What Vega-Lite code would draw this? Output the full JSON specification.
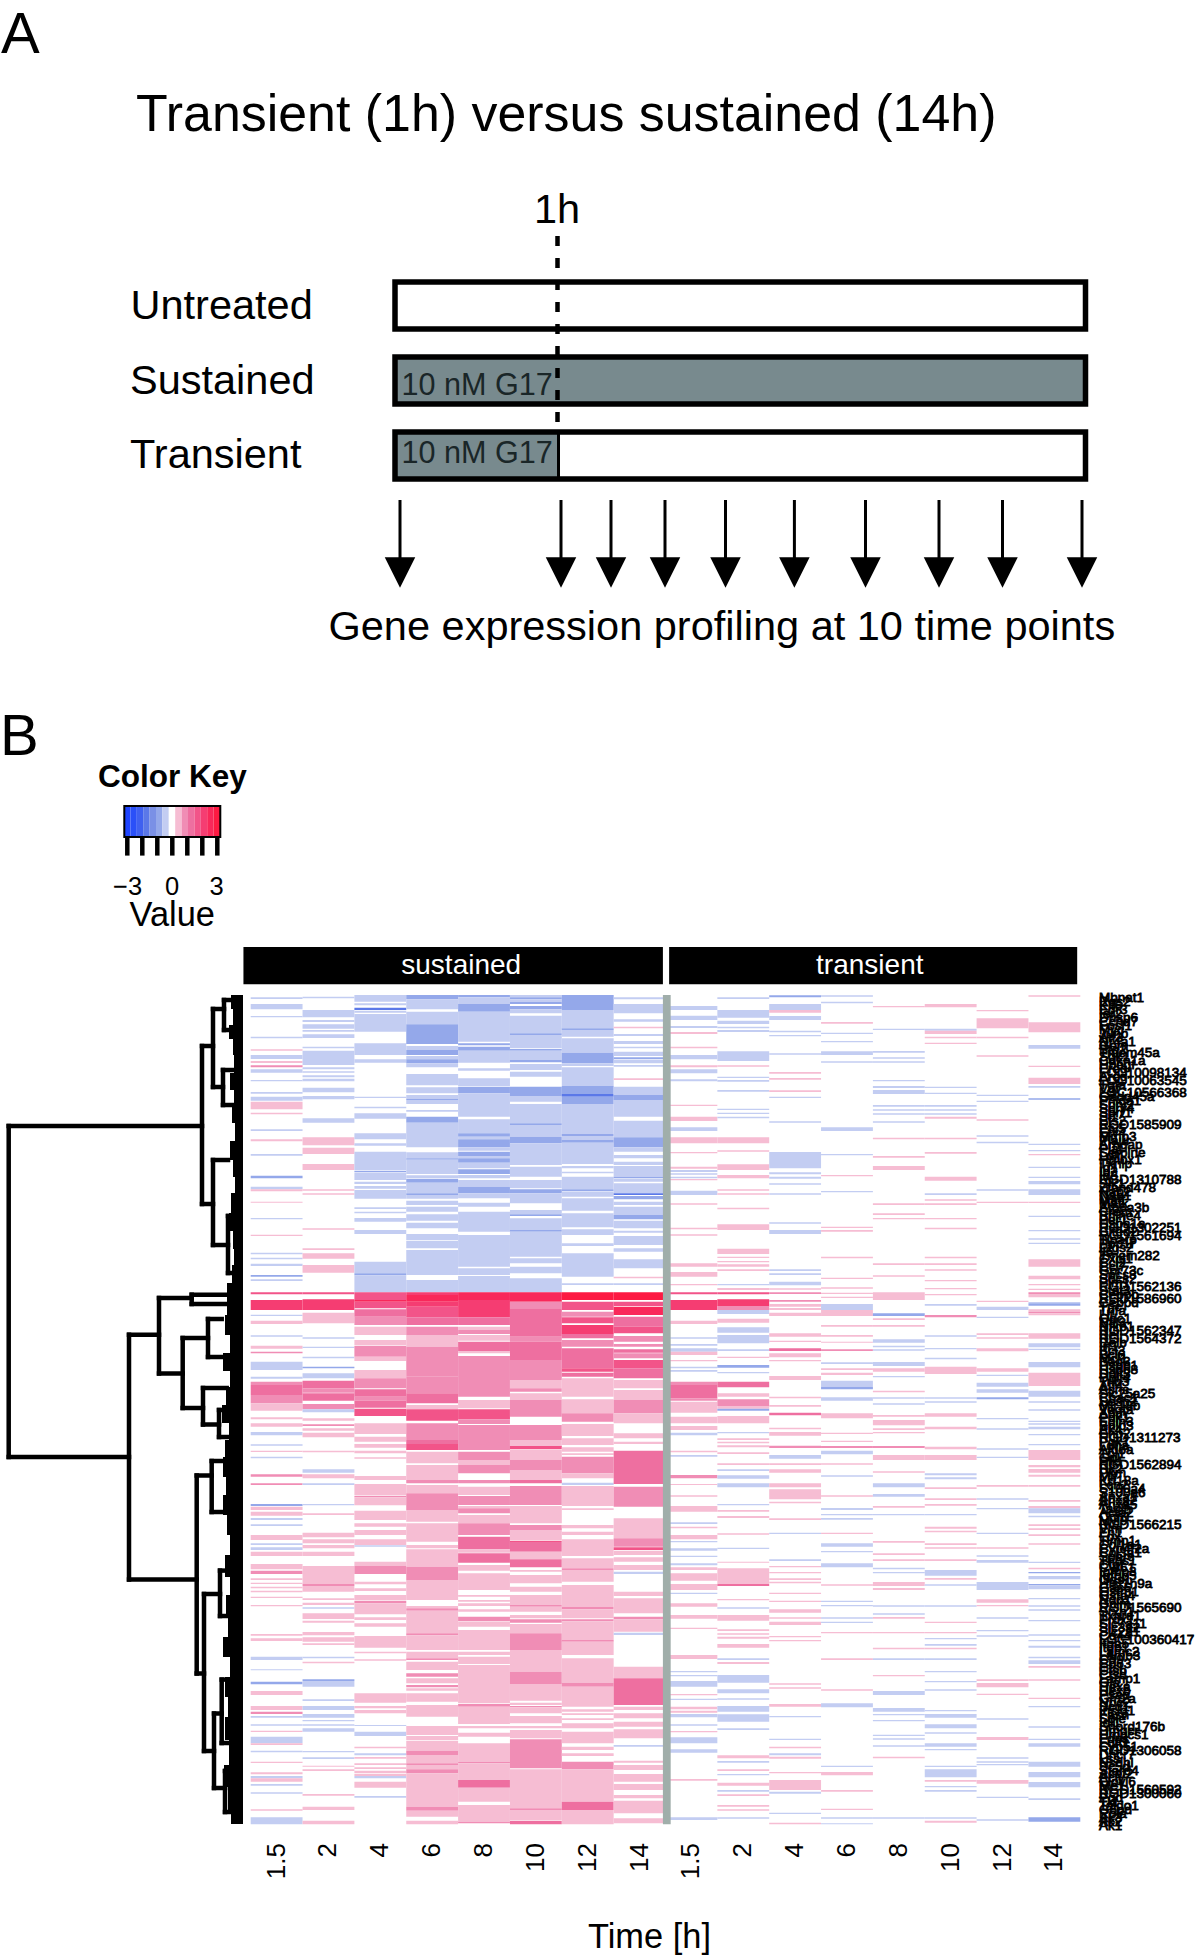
{"$schema":"https://vega.github.io/schema/vega-lite/v6.json","width":1200,"height":1957,"padding":0,"autosize":{"type":"none"},"background":"white","config":{"view":{"stroke":null},"text":{"font":"Liberation Sans"}},"resolve":{"scale":{"x":"independent","y":"independent"}},
"layer":[
{"data":{"values":[{"arm":"Sustained","s":0,"e":14},{"arm":"Transient","s":0,"e":1}]},"mark":{"type":"rect","fill":"#788a8e"},"encoding":{"x":{"field":"s","type":"quantitative","axis":null,"scale":{"domain":[0,1,14],"range":[395,558,1085.5],"zero":false,"nice":false}},"x2":{"field":"e"},"y":{"field":"arm","type":"nominal","axis":null,"scale":{"domain":["Untreated","Sustained","Transient"],"range":[282,479],"paddingInner":0.373,"paddingOuter":0}}}},
{"data":{"values":[{"y":0,"y2":0.8}]},"mark":{"type":"rule","stroke":"black","strokeWidth":4.5,"strokeDash":[10,12]},"encoding":{"x":{"datum":1,"type":"quantitative","axis":null,"scale":{"domain":[0,1,14],"range":[395,557.5,1085.5],"zero":false,"nice":false}},"y":{"field":"y","type":"quantitative","axis":null,"scale":{"domain":[0,1],"range":[236,481],"zero":false,"nice":false}},"y2":{"field":"y2"}}},
{"data":{"values":[{"y":0.8,"y2":1}]},"mark":{"type":"rule","stroke":"black","strokeWidth":3},"encoding":{"x":{"datum":1,"type":"quantitative","axis":null,"scale":{"domain":[0,1,14],"range":[395,558.5,1085.5],"zero":false,"nice":false}},"y":{"field":"y","type":"quantitative","axis":null,"scale":{"domain":[0,1],"range":[236,481],"zero":false,"nice":false}},"y2":{"field":"y2"}}},
{"data":{"values":[{"arm":"Untreated","s":0,"e":14},{"arm":"Sustained","s":0,"e":14},{"arm":"Transient","s":0,"e":14}]},"mark":{"type":"rect","fillOpacity":0,"stroke":"black","strokeWidth":5.5},"encoding":{"x":{"field":"s","type":"quantitative","axis":null,"scale":{"domain":[0,1,14],"range":[395,558,1085.5],"zero":false,"nice":false}},"x2":{"field":"e"},"y":{"field":"arm","type":"nominal","axis":null,"scale":{"domain":["Untreated","Sustained","Transient"],"range":[282,479],"paddingInner":0.373,"paddingOuter":0}}}},
{"data":{"values":[{"h":0},{"h":1},{"h":1.5},{"h":2},{"h":4},{"h":6},{"h":8},{"h":10},{"h":12},{"h":14}]},"mark":{"type":"rule","stroke":"black","strokeWidth":3},"encoding":{"x":{"field":"h","type":"quantitative","axis":null,"scale":{"domain":[0,1,1.5,2,4,6,8,10,12,14],"range":[400,561,611,665,725.5,794.4,865.5,939,1002.5,1082],"zero":false,"nice":false}},"y":{"datum":0,"type":"quantitative","axis":null,"scale":{"domain":[0,1],"range":[500,587.6],"zero":false,"nice":false}},"y2":{"datum":0.68}}},
{"data":{"values":[{"h":0},{"h":1},{"h":1.5},{"h":2},{"h":4},{"h":6},{"h":8},{"h":10},{"h":12},{"h":14}]},"mark":{"type":"point","filled":true,"opacity":1,"fill":"black","strokeWidth":0,"shape":"M-1,-1L1,-1L0,1Z","size":930},"encoding":{"x":{"field":"h","type":"quantitative","axis":null,"scale":{"domain":[0,1,1.5,2,4,6,8,10,12,14],"range":[400,561,611,665,725.5,794.4,865.5,939,1002.5,1082],"zero":false,"nice":false}},"y":{"datum":0.827,"type":"quantitative","axis":null,"scale":{"domain":[0,1],"range":[500,587.6],"zero":false,"nice":false}}}},
{"data":{"values":[{"v":-2.8},{"v":-2.4},{"v":-2},{"v":-1.6},{"v":-1.2},{"v":-0.8},{"v":-0.4},{"v":0},{"v":0.4},{"v":0.8},{"v":1.2},{"v":1.6},{"v":2},{"v":2.4},{"v":2.8}]},"mark":{"type":"rect"},"encoding":{"x":{"field":"v","type":"nominal","axis":null,"sort":null,"scale":{"domain":[-2.8,-2.4,-2,-1.6,-1.2,-0.8,-0.4,0,0.4,0.8,1.2,1.6,2,2.4,2.8],"range":[124,220],"padding":0}},"y":{"datum":0,"type":"quantitative","axis":null,"scale":{"domain":[0,1],"range":[806,837],"zero":false,"nice":false}},"y2":{"datum":1},"color":{"field":"v","type":"quantitative","legend":null,"scale":{"type":"threshold","domain":[-2.6,-2.2,-1.8,-1.4,-1,-0.6,-0.2,0.2,0.6,1,1.4,1.8,2.2,2.6],"range":["#1f45ff","#2a50f8","#3f60f0","#5b78e8","#7a90e6","#94a8ea","#c3cdf2","#ffffff","#f6bdd3","#f08db5","#ee6fa0","#f25489","#f53d72","#f9285a","#fd1a42"]}}}},
{"data":{"values":[{"a":-3.2,"b":3.2}]},"mark":{"type":"rect","fillOpacity":0,"stroke":"black","strokeWidth":2},"encoding":{"x":{"field":"a","type":"quantitative","axis":null,"scale":{"domain":[-3,3],"range":[127.3,217.3],"zero":false,"nice":false}},"x2":{"field":"b"},"y":{"datum":0,"type":"quantitative","axis":null,"scale":{"domain":[0,1],"range":[806,837],"zero":false,"nice":false}},"y2":{"datum":1}}},
{"data":{"values":[{"t":-3},{"t":-2},{"t":-1},{"t":0},{"t":1},{"t":2},{"t":3}]},"mark":{"type":"rule","stroke":"black","strokeWidth":4.5},"encoding":{"x":{"field":"t","type":"quantitative","axis":null,"scale":{"domain":[-3,3],"range":[127.3,217.3],"zero":false,"nice":false}},"y":{"datum":1,"type":"quantitative","axis":null,"scale":{"domain":[0,1],"range":[806,837],"zero":false,"nice":false}},"y2":{"datum":1.6}}},
{"data":{"values":[
{"c":0,"a":52,"b":57,"v":-0.4},{"c":0,"a":72,"b":88,"v":-0.4},{"c":0,"a":108,"b":112,"v":-0.4},{"c":0,"a":170,"b":175,"v":-0.4},{"c":0,"a":208,"b":212,"v":0.4},{"c":0,"a":225,"b":237,"v":-0.4},{"c":0,"a":243,"b":249,"v":0.4},{"c":0,"a":256,"b":262,"v":0.8},{"c":0,"a":268,"b":278,"v":-0.4},{"c":0,"a":300,"b":304,"v":-0.4},{"c":0,"a":336,"b":341,"v":-0.4},{"c":0,"a":350,"b":362,"v":-0.4},{"c":0,"a":365,"b":388,"v":0.4},{"c":0,"a":398,"b":403,"v":0.4},{"c":0,"a":448,"b":453,"v":-0.4},{"c":0,"a":478,"b":484,"v":0.4},{"c":0,"a":522,"b":527,"v":-0.4},{"c":0,"a":587,"b":595,"v":-0.8},{"c":0,"a":620,"b":628,"v":-0.4},{"c":0,"a":628,"b":634,"v":0.4},{"c":0,"a":665,"b":668,"v":0.4},{"c":0,"a":714,"b":718,"v":-0.4},{"c":0,"a":764,"b":768,"v":0.4},{"c":0,"a":818,"b":823,"v":-0.4},{"c":0,"a":833,"b":838,"v":-0.4},{"c":0,"a":851,"b":858,"v":-0.4},{"c":0,"a":885,"b":890,"v":-0.8},{"c":0,"a":898,"b":903,"v":-0.4},{"c":0,"a":937,"b":943,"v":1.6},{"c":0,"a":960,"b":990,"v":2},{"c":0,"a":1004,"b":1008,"v":-0.4},{"c":0,"a":1022,"b":1032,"v":0.4},{"c":0,"a":1066,"b":1070,"v":-0.4},{"c":0,"a":1097,"b":1106,"v":0.4},{"c":0,"a":1115,"b":1120,"v":0.8},{"c":0,"a":1145,"b":1170,"v":-0.4},{"c":0,"a":1190,"b":1196,"v":-0.4},{"c":0,"a":1205,"b":1215,"v":0.8},{"c":0,"a":1215,"b":1245,"v":1.2},{"c":0,"a":1245,"b":1270,"v":0.8},{"c":0,"a":1270,"b":1292,"v":0.4},{"c":0,"a":1312,"b":1318,"v":0.4},{"c":0,"a":1330,"b":1340,"v":0.4},{"c":0,"a":1356,"b":1366,"v":-0.4},{"c":0,"a":1393,"b":1397,"v":-0.4},{"c":0,"a":1412,"b":1416,"v":0.4},{"c":0,"a":1430,"b":1435,"v":-0.4},{"c":0,"a":1483,"b":1490,"v":0.8},{"c":0,"a":1510,"b":1515,"v":0.8},{"c":0,"a":1572,"b":1578,"v":-0.8},{"c":0,"a":1580,"b":1590,"v":0.4},{"c":0,"a":1595,"b":1607,"v":0.4},{"c":0,"a":1614,"b":1620,"v":-0.4},{"c":0,"a":1633,"b":1638,"v":-0.4},{"c":0,"a":1665,"b":1680,"v":0.4},{"c":0,"a":1690,"b":1695,"v":-0.4},{"c":0,"a":1702,"b":1710,"v":-0.4},{"c":0,"a":1715,"b":1728,"v":0.4},{"c":0,"a":1752,"b":1768,"v":0.4},{"c":0,"a":1772,"b":1782,"v":0.8},{"c":0,"a":1795,"b":1800,"v":0.4},{"c":0,"a":1808,"b":1812,"v":0.4},{"c":0,"a":1820,"b":1825,"v":0.4},{"c":0,"a":1832,"b":1837,"v":0.4},{"c":0,"a":1850,"b":1854,"v":0.4},{"c":0,"a":1875,"b":1879,"v":0.4},{"c":0,"a":1962,"b":1967,"v":0.4},{"c":0,"a":1975,"b":1983,"v":0.4},{"c":0,"a":2030,"b":2040,"v":-0.4},{"c":0,"a":2068,"b":2071,"v":-0.4},{"c":0,"a":2105,"b":2113,"v":-0.8},{"c":0,"a":2133,"b":2145,"v":0.4},{"c":0,"a":2178,"b":2190,"v":0.4},{"c":0,"a":2195,"b":2202,"v":0.8},{"c":0,"a":2208,"b":2213,"v":-0.4},{"c":0,"a":2233,"b":2237,"v":-0.4},{"c":0,"a":2252,"b":2256,"v":0.4},{"c":0,"a":2270,"b":2290,"v":-0.4},{"c":0,"a":2290,"b":2295,"v":0.4},{"c":0,"a":2312,"b":2317,"v":-0.4},{"c":0,"a":2345,"b":2349,"v":0.4},{"c":0,"a":2377,"b":2383,"v":0.4},{"c":0,"a":2388,"b":2395,"v":-0.4},{"c":0,"a":2395,"b":2405,"v":0.4},{"c":0,"a":2412,"b":2417,"v":-0.4},{"c":0,"a":2437,"b":2441,"v":-0.4},{"c":0,"a":2488,"b":2492,"v":0.4},{"c":0,"a":2512,"b":2533,"v":-0.4},
{"c":1,"a":50,"b":55,"v":-0.4},{"c":1,"a":90,"b":112,"v":-0.4},{"c":1,"a":120,"b":126,"v":-0.4},{"c":1,"a":133,"b":146,"v":-0.4},{"c":1,"a":150,"b":155,"v":-0.4},{"c":1,"a":163,"b":174,"v":-0.4},{"c":1,"a":200,"b":205,"v":-0.4},{"c":1,"a":212,"b":255,"v":-0.4},{"c":1,"a":262,"b":268,"v":-0.4},{"c":1,"a":274,"b":278,"v":-0.4},{"c":1,"a":286,"b":292,"v":-0.4},{"c":1,"a":296,"b":304,"v":-0.4},{"c":1,"a":323,"b":337,"v":-0.4},{"c":1,"a":348,"b":358,"v":-0.4},{"c":1,"a":415,"b":428,"v":-0.4},{"c":1,"a":472,"b":496,"v":0.4},{"c":1,"a":503,"b":522,"v":0.4},{"c":1,"a":552,"b":570,"v":0.4},{"c":1,"a":628,"b":632,"v":0.4},{"c":1,"a":640,"b":644,"v":0.4},{"c":1,"a":745,"b":749,"v":0.4},{"c":1,"a":805,"b":810,"v":0.4},{"c":1,"a":820,"b":836,"v":0.4},{"c":1,"a":855,"b":878,"v":0.4},{"c":1,"a":937,"b":943,"v":1.6},{"c":1,"a":958,"b":990,"v":2},{"c":1,"a":998,"b":1030,"v":0.4},{"c":1,"a":1072,"b":1076,"v":-0.4},{"c":1,"a":1100,"b":1104,"v":-0.4},{"c":1,"a":1130,"b":1135,"v":-0.4},{"c":1,"a":1160,"b":1165,"v":-0.8},{"c":1,"a":1180,"b":1195,"v":-0.4},{"c":1,"a":1202,"b":1225,"v":1.2},{"c":1,"a":1225,"b":1238,"v":0.8},{"c":1,"a":1240,"b":1262,"v":1.2},{"c":1,"a":1272,"b":1288,"v":0.8},{"c":1,"a":1288,"b":1297,"v":-0.4},{"c":1,"a":1315,"b":1322,"v":0.4},{"c":1,"a":1333,"b":1338,"v":0.8},{"c":1,"a":1345,"b":1352,"v":0.4},{"c":1,"a":1358,"b":1372,"v":0.4},{"c":1,"a":1412,"b":1417,"v":0.4},{"c":1,"a":1468,"b":1478,"v":-0.4},{"c":1,"a":1483,"b":1495,"v":0.4},{"c":1,"a":1510,"b":1515,"v":-0.4},{"c":1,"a":1572,"b":1576,"v":-0.4},{"c":1,"a":1600,"b":1605,"v":0.4},{"c":1,"a":1658,"b":1672,"v":0.4},{"c":1,"a":1678,"b":1690,"v":0.4},{"c":1,"a":1695,"b":1705,"v":0.4},{"c":1,"a":1715,"b":1728,"v":0.4},{"c":1,"a":1758,"b":1812,"v":0.4},{"c":1,"a":1812,"b":1818,"v":0.8},{"c":1,"a":1818,"b":1835,"v":0.4},{"c":1,"a":1855,"b":1860,"v":0.4},{"c":1,"a":1868,"b":1875,"v":0.4},{"c":1,"a":1882,"b":1886,"v":-0.4},{"c":1,"a":1900,"b":1917,"v":0.4},{"c":1,"a":1922,"b":1928,"v":0.4},{"c":1,"a":1956,"b":1966,"v":0.4},{"c":1,"a":1972,"b":1985,"v":0.4},{"c":1,"a":1990,"b":1995,"v":0.4},{"c":1,"a":2030,"b":2035,"v":-0.4},{"c":1,"a":2045,"b":2050,"v":0.4},{"c":1,"a":2098,"b":2103,"v":-0.8},{"c":1,"a":2103,"b":2120,"v":-0.4},{"c":1,"a":2158,"b":2163,"v":-0.4},{"c":1,"a":2178,"b":2190,"v":-0.4},{"c":1,"a":2202,"b":2213,"v":-0.4},{"c":1,"a":2220,"b":2224,"v":-0.4},{"c":1,"a":2233,"b":2237,"v":-0.4},{"c":1,"a":2245,"b":2255,"v":-0.4},{"c":1,"a":2313,"b":2317,"v":-0.4},{"c":1,"a":2332,"b":2337,"v":-0.4},{"c":1,"a":2357,"b":2360,"v":0.4},{"c":1,"a":2368,"b":2373,"v":0.4},{"c":1,"a":2442,"b":2447,"v":0.4},{"c":1,"a":2480,"b":2490,"v":0.4},{"c":1,"a":2522,"b":2533,"v":0.4},
{"c":2,"a":45,"b":65,"v":-0.4},{"c":2,"a":70,"b":76,"v":-0.4},{"c":2,"a":83,"b":90,"v":-1.6},{"c":2,"a":92,"b":98,"v":-0.4},{"c":2,"a":102,"b":155,"v":-0.4},{"c":2,"a":190,"b":225,"v":-0.4},{"c":2,"a":238,"b":248,"v":-0.4},{"c":2,"a":350,"b":354,"v":-0.4},{"c":2,"a":380,"b":385,"v":-0.4},{"c":2,"a":400,"b":416,"v":-0.4},{"c":2,"a":460,"b":478,"v":-0.4},{"c":2,"a":490,"b":497,"v":-0.4},{"c":2,"a":515,"b":570,"v":-0.4},{"c":2,"a":572,"b":577,"v":-0.8},{"c":2,"a":578,"b":600,"v":-0.4},{"c":2,"a":605,"b":612,"v":-0.4},{"c":2,"a":618,"b":626,"v":-0.4},{"c":2,"a":630,"b":656,"v":-0.4},{"c":2,"a":682,"b":687,"v":-0.4},{"c":2,"a":695,"b":700,"v":-0.4},{"c":2,"a":714,"b":725,"v":-0.4},{"c":2,"a":750,"b":762,"v":-0.4},{"c":2,"a":845,"b":880,"v":-0.4},{"c":2,"a":880,"b":886,"v":-0.8},{"c":2,"a":886,"b":937,"v":-0.4},{"c":2,"a":937,"b":960,"v":1.6},{"c":2,"a":960,"b":965,"v":2.4},{"c":2,"a":965,"b":985,"v":1.6},{"c":2,"a":988,"b":1010,"v":1.2},{"c":2,"a":1010,"b":1035,"v":0.8},{"c":2,"a":1040,"b":1065,"v":0.4},{"c":2,"a":1080,"b":1095,"v":0.4},{"c":2,"a":1097,"b":1130,"v":0.8},{"c":2,"a":1130,"b":1143,"v":0.4},{"c":2,"a":1170,"b":1195,"v":0.4},{"c":2,"a":1195,"b":1225,"v":0.8},{"c":2,"a":1228,"b":1250,"v":1.2},{"c":2,"a":1250,"b":1262,"v":0.8},{"c":2,"a":1262,"b":1283,"v":1.2},{"c":2,"a":1286,"b":1308,"v":1.6},{"c":2,"a":1330,"b":1362,"v":0.4},{"c":2,"a":1370,"b":1385,"v":0.4},{"c":2,"a":1392,"b":1403,"v":0.4},{"c":2,"a":1412,"b":1420,"v":0.4},{"c":2,"a":1432,"b":1436,"v":0.4},{"c":2,"a":1488,"b":1500,"v":0.4},{"c":2,"a":1512,"b":1545,"v":0.4},{"c":2,"a":1547,"b":1552,"v":0.8},{"c":2,"a":1552,"b":1576,"v":0.4},{"c":2,"a":1592,"b":1620,"v":0.4},{"c":2,"a":1630,"b":1640,"v":0.4},{"c":2,"a":1650,"b":1665,"v":0.4},{"c":2,"a":1678,"b":1695,"v":0.4},{"c":2,"a":1696,"b":1700,"v":-0.4},{"c":2,"a":1745,"b":1758,"v":0.4},{"c":2,"a":1758,"b":1782,"v":0.8},{"c":2,"a":1805,"b":1813,"v":0.4},{"c":2,"a":1825,"b":1833,"v":0.4},{"c":2,"a":1845,"b":1860,"v":0.4},{"c":2,"a":1862,"b":1870,"v":0.8},{"c":2,"a":1870,"b":1903,"v":0.4},{"c":2,"a":1912,"b":1920,"v":0.4},{"c":2,"a":1930,"b":1940,"v":0.4},{"c":2,"a":1968,"b":2003,"v":0.4},{"c":2,"a":2015,"b":2020,"v":0.4},{"c":2,"a":2038,"b":2042,"v":0.4},{"c":2,"a":2140,"b":2168,"v":0.4},{"c":2,"a":2178,"b":2185,"v":0.4},{"c":2,"a":2190,"b":2200,"v":0.4},{"c":2,"a":2235,"b":2238,"v":-0.4},{"c":2,"a":2255,"b":2268,"v":-0.4},{"c":2,"a":2300,"b":2305,"v":0.4},{"c":2,"a":2320,"b":2326,"v":-0.4},{"c":2,"a":2331,"b":2336,"v":0.4},{"c":2,"a":2350,"b":2355,"v":0.4},{"c":2,"a":2362,"b":2367,"v":0.4},{"c":2,"a":2372,"b":2380,"v":0.4},{"c":2,"a":2382,"b":2388,"v":0.4},{"c":2,"a":2388,"b":2395,"v":-0.4},{"c":2,"a":2405,"b":2423,"v":0.4},{"c":2,"a":2448,"b":2453,"v":-0.4},
{"c":3,"a":45,"b":58,"v":-0.8},{"c":3,"a":58,"b":88,"v":-0.4},{"c":3,"a":95,"b":133,"v":-0.4},{"c":3,"a":133,"b":192,"v":-0.8},{"c":3,"a":198,"b":210,"v":-0.4},{"c":3,"a":210,"b":225,"v":-0.8},{"c":3,"a":228,"b":238,"v":-0.4},{"c":3,"a":238,"b":250,"v":-0.8},{"c":3,"a":250,"b":262,"v":-0.4},{"c":3,"a":282,"b":316,"v":-0.4},{"c":3,"a":322,"b":340,"v":-0.4},{"c":3,"a":345,"b":356,"v":-0.4},{"c":3,"a":356,"b":360,"v":-0.8},{"c":3,"a":360,"b":372,"v":-0.4},{"c":3,"a":390,"b":395,"v":-0.4},{"c":3,"a":410,"b":428,"v":-0.8},{"c":3,"a":428,"b":502,"v":-0.4},{"c":3,"a":517,"b":535,"v":-0.4},{"c":3,"a":535,"b":539,"v":-0.8},{"c":3,"a":539,"b":582,"v":-0.4},{"c":3,"a":586,"b":594,"v":-0.4},{"c":3,"a":596,"b":608,"v":-0.8},{"c":3,"a":608,"b":640,"v":-0.4},{"c":3,"a":640,"b":645,"v":-0.8},{"c":3,"a":645,"b":656,"v":-0.4},{"c":3,"a":662,"b":675,"v":-0.4},{"c":3,"a":680,"b":695,"v":-0.4},{"c":3,"a":703,"b":722,"v":-0.4},{"c":3,"a":728,"b":745,"v":-0.4},{"c":3,"a":762,"b":780,"v":-0.4},{"c":3,"a":782,"b":805,"v":-0.4},{"c":3,"a":810,"b":885,"v":-0.4},{"c":3,"a":900,"b":937,"v":-0.4},{"c":3,"a":937,"b":945,"v":2},{"c":3,"a":945,"b":965,"v":2.4},{"c":3,"a":965,"b":980,"v":2},{"c":3,"a":980,"b":1012,"v":1.6},{"c":3,"a":1012,"b":1035,"v":1.2},{"c":3,"a":1040,"b":1065,"v":0.8},{"c":3,"a":1065,"b":1100,"v":0.4},{"c":3,"a":1100,"b":1190,"v":0.8},{"c":3,"a":1190,"b":1240,"v":0.8},{"c":3,"a":1240,"b":1270,"v":1.2},{"c":3,"a":1275,"b":1288,"v":0.4},{"c":3,"a":1288,"b":1322,"v":1.6},{"c":3,"a":1330,"b":1380,"v":0.8},{"c":3,"a":1380,"b":1392,"v":1.2},{"c":3,"a":1392,"b":1410,"v":1.6},{"c":3,"a":1415,"b":1450,"v":0.4},{"c":3,"a":1455,"b":1500,"v":0.4},{"c":3,"a":1500,"b":1510,"v":0.8},{"c":3,"a":1515,"b":1540,"v":0.4},{"c":3,"a":1540,"b":1590,"v":0.8},{"c":3,"a":1590,"b":1625,"v":0.4},{"c":3,"a":1630,"b":1685,"v":0.4},{"c":3,"a":1695,"b":1705,"v":0.4},{"c":3,"a":1708,"b":1760,"v":0.4},{"c":3,"a":1760,"b":1800,"v":0.8},{"c":3,"a":1800,"b":1860,"v":0.4},{"c":3,"a":1878,"b":1885,"v":0.4},{"c":3,"a":1885,"b":1892,"v":0.8},{"c":3,"a":1892,"b":1960,"v":0.4},{"c":3,"a":1960,"b":1966,"v":0.8},{"c":3,"a":1966,"b":2010,"v":0.4},{"c":3,"a":2015,"b":2035,"v":0.4},{"c":3,"a":2035,"b":2040,"v":0.8},{"c":3,"a":2045,"b":2070,"v":0.4},{"c":3,"a":2080,"b":2090,"v":0.8},{"c":3,"a":2095,"b":2110,"v":0.4},{"c":3,"a":2115,"b":2122,"v":0.8},{"c":3,"a":2125,"b":2132,"v":0.4},{"c":3,"a":2140,"b":2165,"v":0.4},{"c":3,"a":2175,"b":2210,"v":0.4},{"c":3,"a":2238,"b":2265,"v":0.4},{"c":3,"a":2268,"b":2280,"v":0.4},{"c":3,"a":2282,"b":2312,"v":0.4},{"c":3,"a":2312,"b":2325,"v":0.8},{"c":3,"a":2325,"b":2350,"v":0.4},{"c":3,"a":2350,"b":2355,"v":0.8},{"c":3,"a":2355,"b":2368,"v":0.4},{"c":3,"a":2368,"b":2380,"v":0.8},{"c":3,"a":2380,"b":2480,"v":0.4},{"c":3,"a":2480,"b":2492,"v":0.8},{"c":3,"a":2492,"b":2510,"v":0.4},{"c":3,"a":2522,"b":2533,"v":0.4},
{"c":4,"a":45,"b":52,"v":-0.8},{"c":4,"a":52,"b":72,"v":-0.4},{"c":4,"a":72,"b":95,"v":-0.8},{"c":4,"a":95,"b":185,"v":-0.4},{"c":4,"a":190,"b":196,"v":-0.8},{"c":4,"a":200,"b":212,"v":-0.8},{"c":4,"a":212,"b":248,"v":-0.4},{"c":4,"a":265,"b":272,"v":-0.4},{"c":4,"a":295,"b":318,"v":-0.4},{"c":4,"a":320,"b":340,"v":-0.8},{"c":4,"a":340,"b":410,"v":-0.4},{"c":4,"a":418,"b":460,"v":-0.4},{"c":4,"a":460,"b":470,"v":-0.8},{"c":4,"a":470,"b":478,"v":-0.4},{"c":4,"a":478,"b":502,"v":-0.8},{"c":4,"a":502,"b":512,"v":-0.4},{"c":4,"a":515,"b":528,"v":-0.8},{"c":4,"a":528,"b":535,"v":-0.4},{"c":4,"a":535,"b":548,"v":-0.8},{"c":4,"a":548,"b":565,"v":-0.4},{"c":4,"a":568,"b":582,"v":-0.8},{"c":4,"a":585,"b":595,"v":-0.4},{"c":4,"a":600,"b":620,"v":-0.4},{"c":4,"a":620,"b":640,"v":-0.8},{"c":4,"a":640,"b":655,"v":-0.4},{"c":4,"a":668,"b":680,"v":-0.4},{"c":4,"a":695,"b":755,"v":-0.4},{"c":4,"a":765,"b":860,"v":-0.4},{"c":4,"a":865,"b":885,"v":-0.4},{"c":4,"a":888,"b":937,"v":-0.4},{"c":4,"a":937,"b":960,"v":2.4},{"c":4,"a":960,"b":1012,"v":2},{"c":4,"a":1012,"b":1035,"v":1.2},{"c":4,"a":1040,"b":1050,"v":0.4},{"c":4,"a":1050,"b":1062,"v":0.8},{"c":4,"a":1065,"b":1082,"v":0.4},{"c":4,"a":1085,"b":1113,"v":1.2},{"c":4,"a":1113,"b":1120,"v":0.4},{"c":4,"a":1128,"b":1250,"v":0.8},{"c":4,"a":1260,"b":1285,"v":0.4},{"c":4,"a":1288,"b":1318,"v":1.6},{"c":4,"a":1318,"b":1332,"v":0.8},{"c":4,"a":1335,"b":1410,"v":0.8},{"c":4,"a":1415,"b":1440,"v":0.8},{"c":4,"a":1440,"b":1455,"v":0.4},{"c":4,"a":1455,"b":1480,"v":0.8},{"c":4,"a":1500,"b":1510,"v":0.8},{"c":4,"a":1520,"b":1545,"v":0.4},{"c":4,"a":1548,"b":1575,"v":0.8},{"c":4,"a":1578,"b":1585,"v":0.4},{"c":4,"a":1585,"b":1600,"v":0.8},{"c":4,"a":1605,"b":1630,"v":0.4},{"c":4,"a":1630,"b":1665,"v":0.8},{"c":4,"a":1670,"b":1708,"v":1.2},{"c":4,"a":1708,"b":1718,"v":0.4},{"c":4,"a":1720,"b":1748,"v":1.2},{"c":4,"a":1755,"b":1772,"v":0.4},{"c":4,"a":1780,"b":1830,"v":0.4},{"c":4,"a":1845,"b":1850,"v":0.4},{"c":4,"a":1860,"b":1865,"v":0.4},{"c":4,"a":1870,"b":1878,"v":0.4},{"c":4,"a":1888,"b":1895,"v":0.4},{"c":4,"a":1910,"b":1924,"v":0.8},{"c":4,"a":1925,"b":1940,"v":0.4},{"c":4,"a":1950,"b":2010,"v":0.4},{"c":4,"a":2015,"b":2025,"v":0.4},{"c":4,"a":2030,"b":2052,"v":0.4},{"c":4,"a":2055,"b":2170,"v":0.4},{"c":4,"a":2172,"b":2180,"v":0.8},{"c":4,"a":2180,"b":2232,"v":0.4},{"c":4,"a":2238,"b":2245,"v":0.4},{"c":4,"a":2258,"b":2270,"v":0.4},{"c":4,"a":2290,"b":2345,"v":0.4},{"c":4,"a":2345,"b":2350,"v":0.8},{"c":4,"a":2350,"b":2400,"v":0.4},{"c":4,"a":2400,"b":2423,"v":1.2},{"c":4,"a":2423,"b":2465,"v":0.4},{"c":4,"a":2475,"b":2525,"v":0.4},{"c":4,"a":2525,"b":2530,"v":0.8},
{"c":5,"a":45,"b":52,"v":-0.4},{"c":5,"a":52,"b":58,"v":-0.8},{"c":5,"a":58,"b":66,"v":-0.4},{"c":5,"a":66,"b":72,"v":-0.8},{"c":5,"a":78,"b":88,"v":-0.8},{"c":5,"a":88,"b":100,"v":-0.4},{"c":5,"a":107,"b":160,"v":-0.4},{"c":5,"a":160,"b":165,"v":-0.8},{"c":5,"a":165,"b":205,"v":-0.4},{"c":5,"a":207,"b":212,"v":-0.8},{"c":5,"a":212,"b":240,"v":-0.4},{"c":5,"a":240,"b":247,"v":-0.8},{"c":5,"a":252,"b":270,"v":-0.4},{"c":5,"a":275,"b":290,"v":-0.4},{"c":5,"a":320,"b":348,"v":-0.8},{"c":5,"a":348,"b":365,"v":-0.4},{"c":5,"a":372,"b":430,"v":-0.4},{"c":5,"a":430,"b":435,"v":-0.8},{"c":5,"a":435,"b":470,"v":-0.4},{"c":5,"a":470,"b":490,"v":-0.8},{"c":5,"a":490,"b":555,"v":-0.4},{"c":5,"a":560,"b":590,"v":-0.4},{"c":5,"a":600,"b":625,"v":-0.4},{"c":5,"a":628,"b":640,"v":-0.8},{"c":5,"a":640,"b":670,"v":-0.4},{"c":5,"a":690,"b":703,"v":-0.4},{"c":5,"a":703,"b":708,"v":-0.8},{"c":5,"a":715,"b":750,"v":-0.4},{"c":5,"a":750,"b":755,"v":-0.8},{"c":5,"a":755,"b":830,"v":-0.4},{"c":5,"a":835,"b":850,"v":-0.4},{"c":5,"a":860,"b":880,"v":-0.4},{"c":5,"a":895,"b":937,"v":-0.4},{"c":5,"a":937,"b":965,"v":2.4},{"c":5,"a":965,"b":985,"v":0.8},{"c":5,"a":985,"b":1070,"v":1.2},{"c":5,"a":1070,"b":1085,"v":0.8},{"c":5,"a":1085,"b":1140,"v":1.2},{"c":5,"a":1140,"b":1200,"v":0.8},{"c":5,"a":1200,"b":1225,"v":0.4},{"c":5,"a":1225,"b":1235,"v":0.8},{"c":5,"a":1240,"b":1260,"v":0.4},{"c":5,"a":1260,"b":1310,"v":0.8},{"c":5,"a":1335,"b":1380,"v":0.8},{"c":5,"a":1380,"b":1398,"v":0.4},{"c":5,"a":1398,"b":1408,"v":1.6},{"c":5,"a":1410,"b":1440,"v":0.4},{"c":5,"a":1440,"b":1470,"v":0.8},{"c":5,"a":1470,"b":1500,"v":0.4},{"c":5,"a":1500,"b":1510,"v":1.2},{"c":5,"a":1518,"b":1575,"v":0.8},{"c":5,"a":1578,"b":1630,"v":0.4},{"c":5,"a":1635,"b":1650,"v":0.8},{"c":5,"a":1650,"b":1680,"v":0.4},{"c":5,"a":1682,"b":1686,"v":1.6},{"c":5,"a":1686,"b":1715,"v":1.2},{"c":5,"a":1715,"b":1738,"v":0.4},{"c":5,"a":1738,"b":1762,"v":1.2},{"c":5,"a":1770,"b":1775,"v":0.4},{"c":5,"a":1785,"b":1810,"v":0.4},{"c":5,"a":1820,"b":1835,"v":0.4},{"c":5,"a":1845,"b":1875,"v":0.4},{"c":5,"a":1875,"b":1880,"v":0.8},{"c":5,"a":1880,"b":1895,"v":0.4},{"c":5,"a":1905,"b":1915,"v":0.4},{"c":5,"a":1918,"b":1928,"v":0.8},{"c":5,"a":1932,"b":1960,"v":0.4},{"c":5,"a":1960,"b":2010,"v":0.8},{"c":5,"a":2010,"b":2075,"v":0.4},{"c":5,"a":2075,"b":2112,"v":0.8},{"c":5,"a":2112,"b":2162,"v":0.4},{"c":5,"a":2168,"b":2175,"v":0.4},{"c":5,"a":2178,"b":2182,"v":0.8},{"c":5,"a":2182,"b":2200,"v":0.4},{"c":5,"a":2208,"b":2230,"v":0.4},{"c":5,"a":2238,"b":2245,"v":0.4},{"c":5,"a":2250,"b":2275,"v":0.4},{"c":5,"a":2278,"b":2365,"v":0.8},{"c":5,"a":2368,"b":2485,"v":0.4},{"c":5,"a":2485,"b":2490,"v":0.8},{"c":5,"a":2490,"b":2520,"v":0.4},{"c":5,"a":2522,"b":2533,"v":1.2},
{"c":6,"a":45,"b":90,"v":-0.8},{"c":6,"a":90,"b":145,"v":-0.4},{"c":6,"a":145,"b":150,"v":-0.8},{"c":6,"a":150,"b":170,"v":-0.4},{"c":6,"a":175,"b":218,"v":-0.4},{"c":6,"a":218,"b":250,"v":-0.8},{"c":6,"a":250,"b":258,"v":-0.4},{"c":6,"a":262,"b":318,"v":-0.4},{"c":6,"a":318,"b":342,"v":-0.8},{"c":6,"a":342,"b":350,"v":-1.6},{"c":6,"a":350,"b":372,"v":-0.8},{"c":6,"a":372,"b":462,"v":-0.4},{"c":6,"a":462,"b":468,"v":-0.8},{"c":6,"a":468,"b":480,"v":-0.4},{"c":6,"a":480,"b":488,"v":-0.8},{"c":6,"a":488,"b":552,"v":-0.4},{"c":6,"a":558,"b":565,"v":-0.4},{"c":6,"a":575,"b":580,"v":-0.4},{"c":6,"a":590,"b":628,"v":-0.4},{"c":6,"a":628,"b":634,"v":-0.8},{"c":6,"a":635,"b":650,"v":-0.4},{"c":6,"a":655,"b":692,"v":-0.4},{"c":6,"a":700,"b":742,"v":-0.4},{"c":6,"a":748,"b":765,"v":-0.4},{"c":6,"a":790,"b":798,"v":-0.4},{"c":6,"a":820,"b":890,"v":-0.4},{"c":6,"a":910,"b":915,"v":-0.4},{"c":6,"a":937,"b":960,"v":2.8},{"c":6,"a":965,"b":990,"v":1.6},{"c":6,"a":995,"b":1010,"v":0.8},{"c":6,"a":1012,"b":1030,"v":1.6},{"c":6,"a":1035,"b":1062,"v":2},{"c":6,"a":1062,"b":1075,"v":1.2},{"c":6,"a":1080,"b":1100,"v":0.8},{"c":6,"a":1105,"b":1165,"v":1.2},{"c":6,"a":1165,"b":1175,"v":1.6},{"c":6,"a":1178,"b":1190,"v":1.2},{"c":6,"a":1195,"b":1250,"v":0.4},{"c":6,"a":1258,"b":1300,"v":0.4},{"c":6,"a":1300,"b":1325,"v":0.8},{"c":6,"a":1332,"b":1368,"v":0.4},{"c":6,"a":1375,"b":1395,"v":0.4},{"c":6,"a":1402,"b":1415,"v":0.4},{"c":6,"a":1420,"b":1425,"v":0.4},{"c":6,"a":1430,"b":1480,"v":0.8},{"c":6,"a":1480,"b":1495,"v":0.4},{"c":6,"a":1508,"b":1515,"v":-0.4},{"c":6,"a":1518,"b":1578,"v":0.4},{"c":6,"a":1585,"b":1590,"v":0.4},{"c":6,"a":1635,"b":1645,"v":0.4},{"c":6,"a":1655,"b":1665,"v":0.4},{"c":6,"a":1678,"b":1728,"v":0.4},{"c":6,"a":1735,"b":1765,"v":0.4},{"c":6,"a":1765,"b":1770,"v":0.8},{"c":6,"a":1770,"b":1805,"v":0.4},{"c":6,"a":1815,"b":1880,"v":0.4},{"c":6,"a":1880,"b":1888,"v":0.8},{"c":6,"a":1888,"b":1915,"v":0.4},{"c":6,"a":1918,"b":1924,"v":0.8},{"c":6,"a":1924,"b":1980,"v":0.4},{"c":6,"a":1980,"b":1985,"v":0.8},{"c":6,"a":1985,"b":2025,"v":0.4},{"c":6,"a":2035,"b":2108,"v":0.4},{"c":6,"a":2108,"b":2120,"v":0.8},{"c":6,"a":2120,"b":2180,"v":0.4},{"c":6,"a":2188,"b":2195,"v":0.4},{"c":6,"a":2200,"b":2205,"v":0.4},{"c":6,"a":2215,"b":2220,"v":0.4},{"c":6,"a":2230,"b":2245,"v":0.4},{"c":6,"a":2255,"b":2290,"v":0.4},{"c":6,"a":2300,"b":2310,"v":0.4},{"c":6,"a":2320,"b":2328,"v":0.4},{"c":6,"a":2345,"b":2368,"v":0.8},{"c":6,"a":2368,"b":2465,"v":0.4},{"c":6,"a":2465,"b":2490,"v":1.2},{"c":6,"a":2490,"b":2533,"v":0.4},
{"c":7,"a":52,"b":58,"v":-0.4},{"c":7,"a":72,"b":100,"v":-0.4},{"c":7,"a":118,"b":125,"v":-0.4},{"c":7,"a":140,"b":145,"v":0.4},{"c":7,"a":162,"b":168,"v":-0.4},{"c":7,"a":183,"b":192,"v":-0.4},{"c":7,"a":200,"b":205,"v":-0.4},{"c":7,"a":215,"b":228,"v":-0.4},{"c":7,"a":232,"b":238,"v":-0.8},{"c":7,"a":240,"b":250,"v":-0.4},{"c":7,"a":255,"b":260,"v":-0.4},{"c":7,"a":295,"b":300,"v":0.4},{"c":7,"a":320,"b":345,"v":-0.4},{"c":7,"a":345,"b":360,"v":-0.8},{"c":7,"a":360,"b":410,"v":-0.4},{"c":7,"a":422,"b":472,"v":-0.4},{"c":7,"a":472,"b":502,"v":-0.8},{"c":7,"a":502,"b":515,"v":-0.4},{"c":7,"a":525,"b":535,"v":-0.4},{"c":7,"a":545,"b":555,"v":-0.4},{"c":7,"a":558,"b":590,"v":-0.4},{"c":7,"a":590,"b":595,"v":-0.8},{"c":7,"a":596,"b":605,"v":-0.4},{"c":7,"a":610,"b":640,"v":-0.4},{"c":7,"a":640,"b":645,"v":-1.6},{"c":7,"a":648,"b":658,"v":-0.8},{"c":7,"a":665,"b":675,"v":-0.4},{"c":7,"a":680,"b":705,"v":-0.4},{"c":7,"a":705,"b":718,"v":-0.8},{"c":7,"a":722,"b":745,"v":-0.4},{"c":7,"a":752,"b":758,"v":-0.4},{"c":7,"a":768,"b":795,"v":-0.4},{"c":7,"a":805,"b":815,"v":-0.4},{"c":7,"a":838,"b":865,"v":-0.4},{"c":7,"a":890,"b":895,"v":0.4},{"c":7,"a":910,"b":915,"v":-0.4},{"c":7,"a":937,"b":960,"v":2.8},{"c":7,"a":965,"b":978,"v":1.6},{"c":7,"a":980,"b":1005,"v":2.4},{"c":7,"a":1010,"b":1040,"v":1.2},{"c":7,"a":1040,"b":1060,"v":1.6},{"c":7,"a":1068,"b":1085,"v":0.8},{"c":7,"a":1092,"b":1100,"v":0.8},{"c":7,"a":1108,"b":1118,"v":1.2},{"c":7,"a":1120,"b":1135,"v":0.8},{"c":7,"a":1140,"b":1165,"v":1.6},{"c":7,"a":1165,"b":1195,"v":1.2},{"c":7,"a":1200,"b":1225,"v":0.4},{"c":7,"a":1230,"b":1260,"v":0.4},{"c":7,"a":1260,"b":1300,"v":0.8},{"c":7,"a":1300,"b":1330,"v":0.4},{"c":7,"a":1360,"b":1375,"v":0.4},{"c":7,"a":1385,"b":1392,"v":0.4},{"c":7,"a":1412,"b":1512,"v":1.2},{"c":7,"a":1520,"b":1580,"v":0.8},{"c":7,"a":1615,"b":1675,"v":0.4},{"c":7,"a":1675,"b":1700,"v":0.8},{"c":7,"a":1702,"b":1710,"v":1.6},{"c":7,"a":1712,"b":1725,"v":0.4},{"c":7,"a":1732,"b":1745,"v":0.4},{"c":7,"a":1755,"b":1770,"v":0.4},{"c":7,"a":1775,"b":1782,"v":-0.4},{"c":7,"a":1835,"b":1848,"v":0.4},{"c":7,"a":1855,"b":1900,"v":0.4},{"c":7,"a":1910,"b":1918,"v":0.8},{"c":7,"a":1918,"b":1955,"v":0.4},{"c":7,"a":1958,"b":1965,"v":-0.4},{"c":7,"a":2060,"b":2095,"v":0.4},{"c":7,"a":2095,"b":2175,"v":1.2},{"c":7,"a":2180,"b":2190,"v":0.4},{"c":7,"a":2200,"b":2215,"v":0.4},{"c":7,"a":2225,"b":2240,"v":0.4},{"c":7,"a":2248,"b":2275,"v":0.4},{"c":7,"a":2295,"b":2300,"v":-0.4},{"c":7,"a":2342,"b":2348,"v":0.4},{"c":7,"a":2355,"b":2370,"v":0.4},{"c":7,"a":2382,"b":2405,"v":0.4},{"c":7,"a":2412,"b":2430,"v":0.4},{"c":7,"a":2445,"b":2455,"v":0.4},{"c":7,"a":2462,"b":2500,"v":0.4},{"c":7,"a":2515,"b":2530,"v":0.4},
{"c":8,"a":78,"b":90,"v":-0.4},{"c":8,"a":107,"b":120,"v":-0.4},{"c":8,"a":138,"b":144,"v":-0.4},{"c":8,"a":156,"b":162,"v":0.4},{"c":8,"a":200,"b":205,"v":0.4},{"c":8,"a":225,"b":238,"v":-0.4},{"c":8,"a":256,"b":262,"v":0.4},{"c":8,"a":268,"b":280,"v":-0.4},{"c":8,"a":298,"b":304,"v":-0.4},{"c":8,"a":374,"b":378,"v":0.4},{"c":8,"a":410,"b":423,"v":0.4},{"c":8,"a":442,"b":453,"v":-0.4},{"c":8,"a":472,"b":490,"v":0.4},{"c":8,"a":516,"b":520,"v":0.4},{"c":8,"a":560,"b":566,"v":0.4},{"c":8,"a":570,"b":576,"v":-0.4},{"c":8,"a":580,"b":584,"v":-0.4},{"c":8,"a":590,"b":595,"v":-0.4},{"c":8,"a":597,"b":601,"v":0.4},{"c":8,"a":632,"b":645,"v":-0.4},{"c":8,"a":670,"b":674,"v":0.4},{"c":8,"a":743,"b":748,"v":0.4},{"c":8,"a":763,"b":767,"v":0.4},{"c":8,"a":850,"b":860,"v":0.4},{"c":8,"a":876,"b":890,"v":0.4},{"c":8,"a":912,"b":916,"v":0.4},{"c":8,"a":937,"b":943,"v":1.6},{"c":8,"a":960,"b":990,"v":2},{"c":8,"a":1022,"b":1032,"v":0.4},{"c":8,"a":1072,"b":1076,"v":-0.4},{"c":8,"a":1092,"b":1097,"v":-0.4},{"c":8,"a":1105,"b":1115,"v":-0.4},{"c":8,"a":1115,"b":1125,"v":0.4},{"c":8,"a":1140,"b":1144,"v":0.4},{"c":8,"a":1160,"b":1165,"v":-0.4},{"c":8,"a":1170,"b":1175,"v":-0.4},{"c":8,"a":1205,"b":1215,"v":0.8},{"c":8,"a":1215,"b":1255,"v":1.2},{"c":8,"a":1255,"b":1262,"v":0.8},{"c":8,"a":1265,"b":1298,"v":0.4},{"c":8,"a":1310,"b":1330,"v":0.4},{"c":8,"a":1338,"b":1350,"v":0.4},{"c":8,"a":1358,"b":1366,"v":-0.4},{"c":8,"a":1412,"b":1417,"v":0.4},{"c":8,"a":1425,"b":1430,"v":-0.4},{"c":8,"a":1485,"b":1495,"v":0.8},{"c":8,"a":1512,"b":1515,"v":0.4},{"c":8,"a":1546,"b":1550,"v":0.4},{"c":8,"a":1578,"b":1595,"v":0.4},{"c":8,"a":1627,"b":1632,"v":-0.4},{"c":8,"a":1640,"b":1645,"v":0.4},{"c":8,"a":1665,"b":1678,"v":0.4},{"c":8,"a":1683,"b":1687,"v":-0.4},{"c":8,"a":1705,"b":1712,"v":-0.4},{"c":8,"a":1727,"b":1731,"v":-0.4},{"c":8,"a":1750,"b":1756,"v":-0.4},{"c":8,"a":1762,"b":1770,"v":0.4},{"c":8,"a":1780,"b":1802,"v":0.4},{"c":8,"a":1812,"b":1830,"v":0.4},{"c":8,"a":1838,"b":1842,"v":-0.4},{"c":8,"a":1870,"b":1880,"v":0.4},{"c":8,"a":1905,"b":1916,"v":0.4},{"c":8,"a":1943,"b":1947,"v":0.4},{"c":8,"a":2025,"b":2037,"v":0.4},{"c":8,"a":2073,"b":2077,"v":-0.4},{"c":8,"a":2085,"b":2089,"v":-0.4},{"c":8,"a":2103,"b":2120,"v":-0.4},{"c":8,"a":2142,"b":2146,"v":0.4},{"c":8,"a":2156,"b":2160,"v":-0.4},{"c":8,"a":2180,"b":2188,"v":0.4},{"c":8,"a":2192,"b":2198,"v":0.4},{"c":8,"a":2202,"b":2212,"v":-0.4},{"c":8,"a":2233,"b":2237,"v":-0.4},{"c":8,"a":2253,"b":2257,"v":0.4},{"c":8,"a":2272,"b":2290,"v":-0.4},{"c":8,"a":2308,"b":2318,"v":-0.4},{"c":8,"a":2397,"b":2402,"v":0.4},{"c":8,"a":2512,"b":2520,"v":-0.4},
{"c":9,"a":52,"b":57,"v":-0.4},{"c":9,"a":90,"b":113,"v":-0.4},{"c":9,"a":122,"b":132,"v":-0.4},{"c":9,"a":140,"b":145,"v":-0.4},{"c":9,"a":150,"b":156,"v":-0.4},{"c":9,"a":214,"b":243,"v":-0.4},{"c":9,"a":256,"b":260,"v":0.4},{"c":9,"a":290,"b":294,"v":-0.4},{"c":9,"a":300,"b":305,"v":-0.4},{"c":9,"a":330,"b":335,"v":-0.4},{"c":9,"a":386,"b":390,"v":-0.4},{"c":9,"a":398,"b":402,"v":-0.4},{"c":9,"a":410,"b":415,"v":-0.4},{"c":9,"a":472,"b":490,"v":0.4},{"c":9,"a":511,"b":515,"v":0.4},{"c":9,"a":553,"b":570,"v":0.4},{"c":9,"a":585,"b":595,"v":0.4},{"c":9,"a":628,"b":632,"v":0.4},{"c":9,"a":640,"b":644,"v":0.4},{"c":9,"a":683,"b":688,"v":0.4},{"c":9,"a":733,"b":750,"v":0.4},{"c":9,"a":806,"b":822,"v":0.4},{"c":9,"a":830,"b":834,"v":0.4},{"c":9,"a":843,"b":847,"v":0.4},{"c":9,"a":853,"b":860,"v":0.4},{"c":9,"a":868,"b":873,"v":0.4},{"c":9,"a":912,"b":916,"v":-0.4},{"c":9,"a":924,"b":930,"v":0.4},{"c":9,"a":937,"b":943,"v":1.6},{"c":9,"a":958,"b":978,"v":2},{"c":9,"a":978,"b":990,"v":0.8},{"c":9,"a":990,"b":1002,"v":-0.4},{"c":9,"a":1016,"b":1028,"v":0.4},{"c":9,"a":1042,"b":1058,"v":-0.4},{"c":9,"a":1065,"b":1090,"v":-0.4},{"c":9,"a":1108,"b":1113,"v":-0.4},{"c":9,"a":1130,"b":1134,"v":0.4},{"c":9,"a":1155,"b":1163,"v":-0.8},{"c":9,"a":1176,"b":1180,"v":-0.4},{"c":9,"a":1205,"b":1222,"v":1.2},{"c":9,"a":1240,"b":1250,"v":0.4},{"c":9,"a":1258,"b":1278,"v":0.8},{"c":9,"a":1278,"b":1286,"v":0.4},{"c":9,"a":1286,"b":1292,"v":-0.8},{"c":9,"a":1308,"b":1330,"v":0.4},{"c":9,"a":1356,"b":1360,"v":-0.4},{"c":9,"a":1375,"b":1380,"v":0.4},{"c":9,"a":1385,"b":1390,"v":0.4},{"c":9,"a":1396,"b":1402,"v":0.4},{"c":9,"a":1417,"b":1422,"v":0.4},{"c":9,"a":1450,"b":1455,"v":0.4},{"c":9,"a":1468,"b":1473,"v":-0.4},{"c":9,"a":1486,"b":1496,"v":-0.4},{"c":9,"a":1510,"b":1522,"v":-0.4},{"c":9,"a":1572,"b":1576,"v":-0.4},{"c":9,"a":1590,"b":1595,"v":0.4},{"c":9,"a":1608,"b":1614,"v":0.4},{"c":9,"a":1660,"b":1664,"v":0.4},{"c":9,"a":1703,"b":1707,"v":-0.4},{"c":9,"a":1745,"b":1748,"v":0.4},{"c":9,"a":1765,"b":1812,"v":0.4},{"c":9,"a":1812,"b":1818,"v":1.2},{"c":9,"a":1857,"b":1861,"v":0.4},{"c":9,"a":1882,"b":1886,"v":-0.4},{"c":9,"a":1905,"b":1922,"v":0.4},{"c":9,"a":1948,"b":1953,"v":0.4},{"c":9,"a":1960,"b":1964,"v":0.4},{"c":9,"a":1970,"b":1976,"v":0.4},{"c":9,"a":1992,"b":2003,"v":0.4},{"c":9,"a":2035,"b":2040,"v":-0.4},{"c":9,"a":2046,"b":2052,"v":0.4},{"c":9,"a":2085,"b":2108,"v":-0.4},{"c":9,"a":2128,"b":2140,"v":-0.4},{"c":9,"a":2155,"b":2159,"v":-0.4},{"c":9,"a":2178,"b":2195,"v":-0.4},{"c":9,"a":2203,"b":2225,"v":-0.4},{"c":9,"a":2245,"b":2250,"v":-0.4},{"c":9,"a":2326,"b":2335,"v":0.4},{"c":9,"a":2343,"b":2348,"v":-0.4},{"c":9,"a":2368,"b":2373,"v":0.4},{"c":9,"a":2382,"b":2386,"v":-0.4},{"c":9,"a":2408,"b":2417,"v":0.4},{"c":9,"a":2430,"b":2435,"v":-0.4},{"c":9,"a":2443,"b":2448,"v":0.4},{"c":9,"a":2475,"b":2480,"v":0.4},{"c":9,"a":2488,"b":2492,"v":0.4},{"c":9,"a":2512,"b":2516,"v":-0.4},
{"c":10,"a":46,"b":52,"v":-0.8},{"c":10,"a":72,"b":90,"v":-0.4},{"c":10,"a":90,"b":98,"v":0.4},{"c":10,"a":108,"b":120,"v":-0.4},{"c":10,"a":152,"b":157,"v":-0.4},{"c":10,"a":165,"b":169,"v":-0.4},{"c":10,"a":220,"b":224,"v":-0.4},{"c":10,"a":276,"b":281,"v":0.4},{"c":10,"a":294,"b":299,"v":0.4},{"c":10,"a":331,"b":336,"v":0.4},{"c":10,"a":350,"b":354,"v":-0.4},{"c":10,"a":424,"b":428,"v":-0.4},{"c":10,"a":516,"b":565,"v":-0.4},{"c":10,"a":577,"b":583,"v":-0.4},{"c":10,"a":590,"b":596,"v":-0.4},{"c":10,"a":610,"b":614,"v":-0.4},{"c":10,"a":640,"b":644,"v":-0.4},{"c":10,"a":727,"b":731,"v":-0.4},{"c":10,"a":750,"b":762,"v":-0.4},{"c":10,"a":868,"b":873,"v":-0.4},{"c":10,"a":880,"b":885,"v":-0.4},{"c":10,"a":905,"b":916,"v":-0.4},{"c":10,"a":925,"b":929,"v":0.4},{"c":10,"a":937,"b":942,"v":0.8},{"c":10,"a":960,"b":965,"v":0.8},{"c":10,"a":972,"b":980,"v":0.4},{"c":10,"a":984,"b":990,"v":0.4},{"c":10,"a":998,"b":1008,"v":0.4},{"c":10,"a":1060,"b":1070,"v":0.4},{"c":10,"a":1082,"b":1086,"v":0.4},{"c":10,"a":1105,"b":1113,"v":1.2},{"c":10,"a":1120,"b":1132,"v":0.4},{"c":10,"a":1140,"b":1144,"v":0.4},{"c":10,"a":1188,"b":1200,"v":0.4},{"c":10,"a":1250,"b":1255,"v":0.4},{"c":10,"a":1275,"b":1280,"v":0.4},{"c":10,"a":1298,"b":1306,"v":1.2},{"c":10,"a":1343,"b":1348,"v":0.4},{"c":10,"a":1356,"b":1367,"v":0.4},{"c":10,"a":1397,"b":1404,"v":0.8},{"c":10,"a":1425,"b":1436,"v":-0.4},{"c":10,"a":1450,"b":1455,"v":0.4},{"c":10,"a":1468,"b":1478,"v":0.4},{"c":10,"a":1510,"b":1522,"v":0.4},{"c":10,"a":1528,"b":1558,"v":0.4},{"c":10,"a":1565,"b":1570,"v":0.4},{"c":10,"a":1615,"b":1620,"v":0.4},{"c":10,"a":1658,"b":1662,"v":-0.4},{"c":10,"a":1738,"b":1743,"v":-0.4},{"c":10,"a":1758,"b":1762,"v":0.4},{"c":10,"a":1776,"b":1780,"v":0.4},{"c":10,"a":1795,"b":1800,"v":0.4},{"c":10,"a":1805,"b":1810,"v":0.4},{"c":10,"a":1838,"b":1842,"v":0.4},{"c":10,"a":1862,"b":1866,"v":0.4},{"c":10,"a":1888,"b":1898,"v":0.4},{"c":10,"a":1912,"b":1916,"v":0.4},{"c":10,"a":1925,"b":1935,"v":0.4},{"c":10,"a":1968,"b":1972,"v":0.4},{"c":10,"a":1980,"b":1984,"v":0.4},{"c":10,"a":2110,"b":2114,"v":0.4},{"c":10,"a":2122,"b":2126,"v":0.4},{"c":10,"a":2172,"b":2180,"v":0.4},{"c":10,"a":2208,"b":2212,"v":-0.4},{"c":10,"a":2276,"b":2280,"v":-0.4},{"c":10,"a":2300,"b":2305,"v":0.4},{"c":10,"a":2320,"b":2326,"v":-0.4},{"c":10,"a":2330,"b":2336,"v":0.4},{"c":10,"a":2376,"b":2380,"v":0.4},{"c":10,"a":2400,"b":2430,"v":0.4},{"c":10,"a":2435,"b":2441,"v":-0.4},{"c":10,"a":2498,"b":2502,"v":-0.4},{"c":10,"a":2528,"b":2533,"v":0.4},
{"c":11,"a":46,"b":50,"v":-0.4},{"c":11,"a":65,"b":70,"v":-0.4},{"c":11,"a":126,"b":131,"v":0.4},{"c":11,"a":158,"b":162,"v":-0.4},{"c":11,"a":183,"b":187,"v":-0.4},{"c":11,"a":214,"b":225,"v":-0.4},{"c":11,"a":244,"b":248,"v":-0.4},{"c":11,"a":442,"b":453,"v":-0.4},{"c":11,"a":522,"b":526,"v":-0.4},{"c":11,"a":585,"b":589,"v":0.4},{"c":11,"a":633,"b":637,"v":-0.4},{"c":11,"a":740,"b":744,"v":0.4},{"c":11,"a":750,"b":755,"v":0.4},{"c":11,"a":830,"b":835,"v":0.4},{"c":11,"a":893,"b":897,"v":0.4},{"c":11,"a":922,"b":926,"v":0.4},{"c":11,"a":938,"b":942,"v":0.4},{"c":11,"a":950,"b":954,"v":0.4},{"c":11,"a":972,"b":990,"v":-0.4},{"c":11,"a":990,"b":1008,"v":0.4},{"c":11,"a":1035,"b":1040,"v":0.4},{"c":11,"a":1065,"b":1070,"v":0.4},{"c":11,"a":1085,"b":1088,"v":0.4},{"c":11,"a":1108,"b":1113,"v":0.8},{"c":11,"a":1147,"b":1152,"v":-0.4},{"c":11,"a":1165,"b":1170,"v":0.4},{"c":11,"a":1178,"b":1185,"v":0.4},{"c":11,"a":1202,"b":1220,"v":-0.4},{"c":11,"a":1220,"b":1228,"v":-0.8},{"c":11,"a":1252,"b":1262,"v":-0.4},{"c":11,"a":1300,"b":1315,"v":0.4},{"c":11,"a":1358,"b":1362,"v":0.4},{"c":11,"a":1382,"b":1386,"v":0.4},{"c":11,"a":1398,"b":1404,"v":0.8},{"c":11,"a":1412,"b":1423,"v":-0.4},{"c":11,"a":1450,"b":1454,"v":0.4},{"c":11,"a":1486,"b":1490,"v":-0.4},{"c":11,"a":1546,"b":1550,"v":0.4},{"c":11,"a":1584,"b":1590,"v":-0.4},{"c":11,"a":1602,"b":1606,"v":-0.4},{"c":11,"a":1614,"b":1619,"v":-0.4},{"c":11,"a":1658,"b":1662,"v":0.4},{"c":11,"a":1690,"b":1700,"v":-0.4},{"c":11,"a":1713,"b":1717,"v":-0.4},{"c":11,"a":1750,"b":1762,"v":-0.4},{"c":11,"a":1813,"b":1817,"v":0.4},{"c":11,"a":1862,"b":1866,"v":-0.4},{"c":11,"a":1875,"b":1879,"v":-0.4},{"c":11,"a":1912,"b":1916,"v":-0.4},{"c":11,"a":1925,"b":1929,"v":-0.4},{"c":11,"a":1956,"b":1960,"v":0.4},{"c":11,"a":2035,"b":2040,"v":0.4},{"c":11,"a":2128,"b":2132,"v":0.4},{"c":11,"a":2170,"b":2182,"v":-0.4},{"c":11,"a":2357,"b":2361,"v":-0.4},{"c":11,"a":2376,"b":2386,"v":0.4},{"c":11,"a":2430,"b":2435,"v":0.4},{"c":11,"a":2486,"b":2490,"v":0.4},{"c":11,"a":2512,"b":2516,"v":-0.4},{"c":11,"a":2530,"b":2533,"v":-0.4},
{"c":12,"a":78,"b":82,"v":0.4},{"c":12,"a":146,"b":150,"v":-0.4},{"c":12,"a":213,"b":218,"v":-0.4},{"c":12,"a":232,"b":236,"v":-0.4},{"c":12,"a":244,"b":248,"v":-0.4},{"c":12,"a":300,"b":304,"v":-0.4},{"c":12,"a":318,"b":324,"v":-0.4},{"c":12,"a":330,"b":342,"v":-0.4},{"c":12,"a":375,"b":380,"v":-0.4},{"c":12,"a":388,"b":392,"v":-0.4},{"c":12,"a":400,"b":404,"v":-0.4},{"c":12,"a":424,"b":428,"v":-0.4},{"c":12,"a":473,"b":478,"v":0.4},{"c":12,"a":528,"b":533,"v":0.4},{"c":12,"a":558,"b":570,"v":0.4},{"c":12,"a":670,"b":675,"v":0.4},{"c":12,"a":700,"b":705,"v":0.4},{"c":12,"a":714,"b":718,"v":0.4},{"c":12,"a":850,"b":855,"v":0.4},{"c":12,"a":886,"b":890,"v":0.4},{"c":12,"a":937,"b":960,"v":0.4},{"c":12,"a":1000,"b":1008,"v":-0.8},{"c":12,"a":1015,"b":1020,"v":0.4},{"c":12,"a":1035,"b":1040,"v":0.4},{"c":12,"a":1078,"b":1088,"v":-0.4},{"c":12,"a":1097,"b":1102,"v":-0.4},{"c":12,"a":1108,"b":1112,"v":-0.4},{"c":12,"a":1146,"b":1158,"v":-0.4},{"c":12,"a":1165,"b":1175,"v":0.4},{"c":12,"a":1188,"b":1192,"v":-0.4},{"c":12,"a":1232,"b":1237,"v":0.4},{"c":12,"a":1252,"b":1256,"v":-0.4},{"c":12,"a":1270,"b":1274,"v":-0.4},{"c":12,"a":1305,"b":1310,"v":0.4},{"c":12,"a":1320,"b":1336,"v":0.4},{"c":12,"a":1345,"b":1350,"v":0.4},{"c":12,"a":1356,"b":1360,"v":0.4},{"c":12,"a":1398,"b":1404,"v":0.8},{"c":12,"a":1425,"b":1440,"v":0.4},{"c":12,"a":1474,"b":1478,"v":0.4},{"c":12,"a":1510,"b":1522,"v":-0.4},{"c":12,"a":1542,"b":1550,"v":-0.4},{"c":12,"a":1578,"b":1583,"v":0.4},{"c":12,"a":1602,"b":1606,"v":-0.4},{"c":12,"a":1683,"b":1688,"v":0.4},{"c":12,"a":1720,"b":1725,"v":0.4},{"c":12,"a":1738,"b":1743,"v":0.4},{"c":12,"a":1763,"b":1768,"v":-0.4},{"c":12,"a":1776,"b":1780,"v":-0.4},{"c":12,"a":1806,"b":1818,"v":0.4},{"c":12,"a":1824,"b":1830,"v":0.4},{"c":12,"a":1876,"b":1880,"v":-0.4},{"c":12,"a":1900,"b":1904,"v":-0.4},{"c":12,"a":1911,"b":1916,"v":0.4},{"c":12,"a":1956,"b":1960,"v":0.4},{"c":12,"a":2003,"b":2008,"v":0.4},{"c":12,"a":2035,"b":2040,"v":-0.4},{"c":12,"a":2085,"b":2089,"v":0.4},{"c":12,"a":2133,"b":2145,"v":-0.4},{"c":12,"a":2184,"b":2195,"v":-0.4},{"c":12,"a":2202,"b":2206,"v":-0.4},{"c":12,"a":2220,"b":2224,"v":-0.4},{"c":12,"a":2264,"b":2268,"v":-0.4},{"c":12,"a":2275,"b":2279,"v":-0.4},{"c":12,"a":2296,"b":2300,"v":-0.4},{"c":12,"a":2330,"b":2335,"v":0.4},{"c":12,"a":2512,"b":2516,"v":-0.4},
{"c":13,"a":72,"b":82,"v":0.4},{"c":13,"a":146,"b":152,"v":-0.4},{"c":13,"a":152,"b":162,"v":0.4},{"c":13,"a":170,"b":175,"v":0.4},{"c":13,"a":188,"b":192,"v":0.4},{"c":13,"a":320,"b":324,"v":-0.4},{"c":13,"a":338,"b":342,"v":-0.4},{"c":13,"a":375,"b":380,"v":-0.4},{"c":13,"a":388,"b":392,"v":-0.4},{"c":13,"a":400,"b":404,"v":-0.4},{"c":13,"a":410,"b":416,"v":0.4},{"c":13,"a":473,"b":478,"v":0.4},{"c":13,"a":516,"b":521,"v":0.4},{"c":13,"a":590,"b":602,"v":0.4},{"c":13,"a":640,"b":645,"v":-0.4},{"c":13,"a":658,"b":662,"v":0.4},{"c":13,"a":670,"b":675,"v":0.4},{"c":13,"a":714,"b":718,"v":0.4},{"c":13,"a":743,"b":748,"v":0.4},{"c":13,"a":830,"b":835,"v":0.4},{"c":13,"a":850,"b":855,"v":0.4},{"c":13,"a":868,"b":872,"v":0.4},{"c":13,"a":900,"b":904,"v":0.4},{"c":13,"a":924,"b":928,"v":0.4},{"c":13,"a":942,"b":946,"v":0.4},{"c":13,"a":972,"b":977,"v":-0.4},{"c":13,"a":1005,"b":1012,"v":0.8},{"c":13,"a":1066,"b":1070,"v":-0.4},{"c":13,"a":1104,"b":1108,"v":-0.4},{"c":13,"a":1133,"b":1138,"v":-0.4},{"c":13,"a":1160,"b":1182,"v":0.4},{"c":13,"a":1252,"b":1256,"v":-0.4},{"c":13,"a":1264,"b":1268,"v":-0.4},{"c":13,"a":1300,"b":1310,"v":0.4},{"c":13,"a":1340,"b":1348,"v":0.4},{"c":13,"a":1400,"b":1408,"v":0.4},{"c":13,"a":1425,"b":1440,"v":0.4},{"c":13,"a":1480,"b":1486,"v":-0.4},{"c":13,"a":1492,"b":1498,"v":-0.4},{"c":13,"a":1522,"b":1527,"v":0.4},{"c":13,"a":1555,"b":1560,"v":0.4},{"c":13,"a":1572,"b":1577,"v":0.4},{"c":13,"a":1602,"b":1606,"v":-0.4},{"c":13,"a":1640,"b":1646,"v":0.4},{"c":13,"a":1652,"b":1657,"v":0.4},{"c":13,"a":1690,"b":1695,"v":0.4},{"c":13,"a":1702,"b":1706,"v":0.4},{"c":13,"a":1738,"b":1743,"v":0.4},{"c":13,"a":1770,"b":1787,"v":-0.4},{"c":13,"a":1794,"b":1799,"v":0.4},{"c":13,"a":1813,"b":1817,"v":-0.4},{"c":13,"a":1876,"b":1880,"v":-0.4},{"c":13,"a":1925,"b":1929,"v":0.4},{"c":13,"a":1956,"b":1960,"v":0.4},{"c":13,"a":1974,"b":1978,"v":-0.4},{"c":13,"a":1992,"b":1997,"v":-0.4},{"c":13,"a":2003,"b":2008,"v":0.4},{"c":13,"a":2035,"b":2040,"v":-0.4},{"c":13,"a":2073,"b":2077,"v":-0.4},{"c":13,"a":2103,"b":2107,"v":-0.4},{"c":13,"a":2128,"b":2132,"v":-0.4},{"c":13,"a":2190,"b":2194,"v":-0.4},{"c":13,"a":2202,"b":2213,"v":-0.4},{"c":13,"a":2233,"b":2245,"v":-0.4},{"c":13,"a":2257,"b":2261,"v":-0.4},{"c":13,"a":2290,"b":2300,"v":-0.4},{"c":13,"a":2307,"b":2311,"v":-0.4},{"c":13,"a":2357,"b":2361,"v":-0.4},{"c":13,"a":2368,"b":2392,"v":-0.4},{"c":13,"a":2400,"b":2405,"v":0.4},{"c":13,"a":2418,"b":2422,"v":-0.4},{"c":13,"a":2430,"b":2435,"v":-0.4},{"c":13,"a":2512,"b":2516,"v":-0.4},{"c":13,"a":2522,"b":2528,"v":0.4},
{"c":14,"a":90,"b":94,"v":0.4},{"c":14,"a":115,"b":145,"v":0.4},{"c":14,"a":170,"b":175,"v":0.4},{"c":14,"a":226,"b":230,"v":0.4},{"c":14,"a":344,"b":348,"v":-0.4},{"c":14,"a":362,"b":366,"v":-0.4},{"c":14,"a":418,"b":422,"v":0.4},{"c":14,"a":466,"b":470,"v":-0.4},{"c":14,"a":485,"b":490,"v":-0.4},{"c":14,"a":628,"b":632,"v":-0.4},{"c":14,"a":665,"b":669,"v":0.4},{"c":14,"a":962,"b":966,"v":0.4},{"c":14,"a":980,"b":990,"v":-0.4},{"c":14,"a":1010,"b":1014,"v":-0.4},{"c":14,"a":1060,"b":1065,"v":0.4},{"c":14,"a":1072,"b":1076,"v":0.4},{"c":14,"a":1105,"b":1114,"v":0.4},{"c":14,"a":1165,"b":1175,"v":0.4},{"c":14,"a":1184,"b":1188,"v":-0.4},{"c":14,"a":1208,"b":1220,"v":-0.4},{"c":14,"a":1228,"b":1238,"v":-0.4},{"c":14,"a":1252,"b":1258,"v":-0.8},{"c":14,"a":1314,"b":1318,"v":-0.4},{"c":14,"a":1345,"b":1349,"v":-0.4},{"c":14,"a":1405,"b":1409,"v":-0.4},{"c":14,"a":1430,"b":1434,"v":-0.4},{"c":14,"a":1515,"b":1520,"v":0.4},{"c":14,"a":1555,"b":1559,"v":-0.4},{"c":14,"a":1584,"b":1588,"v":-0.4},{"c":14,"a":1658,"b":1662,"v":-0.4},{"c":14,"a":1702,"b":1706,"v":0.4},{"c":14,"a":1726,"b":1730,"v":-0.4},{"c":14,"a":1740,"b":1748,"v":-0.4},{"c":14,"a":1806,"b":1830,"v":-0.4},{"c":14,"a":1858,"b":1868,"v":0.4},{"c":14,"a":1875,"b":1879,"v":0.4},{"c":14,"a":1912,"b":1916,"v":-0.4},{"c":14,"a":1950,"b":1954,"v":-0.4},{"c":14,"a":1966,"b":1970,"v":-0.4},{"c":14,"a":2098,"b":2103,"v":0.4},{"c":14,"a":2109,"b":2122,"v":0.4},{"c":14,"a":2141,"b":2145,"v":0.4},{"c":14,"a":2215,"b":2219,"v":-0.4},{"c":14,"a":2271,"b":2280,"v":0.4},{"c":14,"a":2332,"b":2336,"v":-0.4},{"c":14,"a":2344,"b":2348,"v":-0.4},{"c":14,"a":2352,"b":2356,"v":-0.4},{"c":14,"a":2400,"b":2411,"v":0.4},{"c":14,"a":2450,"b":2454,"v":-0.4},{"c":14,"a":2518,"b":2522,"v":-0.4},
{"c":15,"a":46,"b":50,"v":0.4},{"c":15,"a":127,"b":157,"v":0.4},{"c":15,"a":195,"b":206,"v":-0.4},{"c":15,"a":257,"b":261,"v":0.4},{"c":15,"a":293,"b":312,"v":0.4},{"c":15,"a":318,"b":323,"v":-0.4},{"c":15,"a":355,"b":359,"v":-0.8},{"c":15,"a":491,"b":495,"v":-0.4},{"c":15,"a":510,"b":514,"v":-0.4},{"c":15,"a":522,"b":526,"v":0.4},{"c":15,"a":560,"b":564,"v":-0.4},{"c":15,"a":590,"b":594,"v":-0.4},{"c":15,"a":603,"b":613,"v":-0.4},{"c":15,"a":628,"b":645,"v":-0.4},{"c":15,"a":665,"b":669,"v":0.4},{"c":15,"a":707,"b":711,"v":-0.4},{"c":15,"a":750,"b":754,"v":-0.4},{"c":15,"a":775,"b":779,"v":-0.4},{"c":15,"a":788,"b":792,"v":-0.4},{"c":15,"a":838,"b":860,"v":0.4},{"c":15,"a":887,"b":898,"v":0.4},{"c":15,"a":912,"b":916,"v":0.4},{"c":15,"a":926,"b":930,"v":0.4},{"c":15,"a":937,"b":942,"v":0.8},{"c":15,"a":942,"b":952,"v":0.4},{"c":15,"a":966,"b":970,"v":-0.4},{"c":15,"a":970,"b":977,"v":-0.8},{"c":15,"a":988,"b":995,"v":0.4},{"c":15,"a":995,"b":1000,"v":0.8},{"c":15,"a":1000,"b":1006,"v":0.4},{"c":15,"a":1060,"b":1076,"v":0.4},{"c":15,"a":1090,"b":1102,"v":-0.4},{"c":15,"a":1106,"b":1110,"v":-0.4},{"c":15,"a":1146,"b":1162,"v":-0.4},{"c":15,"a":1178,"b":1218,"v":0.4},{"c":15,"a":1232,"b":1250,"v":-0.4},{"c":15,"a":1264,"b":1268,"v":-0.4},{"c":15,"a":1288,"b":1292,"v":-0.4},{"c":15,"a":1322,"b":1326,"v":-0.4},{"c":15,"a":1330,"b":1334,"v":-0.4},{"c":15,"a":1340,"b":1348,"v":-0.4},{"c":15,"a":1362,"b":1366,"v":-0.4},{"c":15,"a":1392,"b":1396,"v":-0.4},{"c":15,"a":1410,"b":1440,"v":0.4},{"c":15,"a":1455,"b":1462,"v":0.4},{"c":15,"a":1467,"b":1478,"v":0.4},{"c":15,"a":1484,"b":1490,"v":0.4},{"c":15,"a":1515,"b":1520,"v":0.4},{"c":15,"a":1560,"b":1565,"v":0.4},{"c":15,"a":1578,"b":1585,"v":0.4},{"c":15,"a":1585,"b":1600,"v":-0.4},{"c":15,"a":1607,"b":1612,"v":-0.4},{"c":15,"a":1633,"b":1638,"v":0.4},{"c":15,"a":1645,"b":1650,"v":0.4},{"c":15,"a":1663,"b":1668,"v":0.4},{"c":15,"a":1690,"b":1694,"v":0.4},{"c":15,"a":1745,"b":1749,"v":-0.4},{"c":15,"a":1763,"b":1768,"v":0.4},{"c":15,"a":1776,"b":1780,"v":-0.8},{"c":15,"a":1788,"b":1798,"v":-0.4},{"c":15,"a":1812,"b":1816,"v":-0.8},{"c":15,"a":1816,"b":1828,"v":-0.4},{"c":15,"a":1854,"b":1858,"v":-0.4},{"c":15,"a":1876,"b":1880,"v":-0.4},{"c":15,"a":1888,"b":1892,"v":-0.4},{"c":15,"a":1920,"b":1924,"v":-0.4},{"c":15,"a":1963,"b":1967,"v":-0.4},{"c":15,"a":1980,"b":1984,"v":-0.4},{"c":15,"a":1997,"b":2003,"v":-0.4},{"c":15,"a":2030,"b":2035,"v":-0.4},{"c":15,"a":2041,"b":2052,"v":-0.4},{"c":15,"a":2058,"b":2063,"v":0.4},{"c":15,"a":2098,"b":2102,"v":0.4},{"c":15,"a":2153,"b":2157,"v":0.4},{"c":15,"a":2178,"b":2182,"v":-0.4},{"c":15,"a":2239,"b":2243,"v":-0.4},{"c":15,"a":2276,"b":2280,"v":-0.4},{"c":15,"a":2290,"b":2300,"v":-0.4},{"c":15,"a":2345,"b":2360,"v":-0.4},{"c":15,"a":2376,"b":2392,"v":-0.4},{"c":15,"a":2406,"b":2422,"v":-0.4},{"c":15,"a":2455,"b":2460,"v":-0.4},{"c":15,"a":2512,"b":2525,"v":-0.8}
]},"mark":{"type":"rect"},"encoding":{"x":{"field":"c","type":"ordinal","axis":null,"scale":{"domain":[0,1,2,3,4,5,6,7,8,9,10,11,12,13,14,15],"range":[250.7,1080.3],"padding":0}},"y":{"field":"a","type":"quantitative","axis":null,"scale":{"domain":[45,2533],"range":[995,1824.3],"zero":false,"nice":false}},"y2":{"field":"b"},"color":{"field":"v","type":"quantitative","legend":null,"scale":{"type":"threshold","domain":[-2.6,-2.2,-1.8,-1.4,-1,-0.6,-0.2,0.2,0.6,1,1.4,1.8,2.2,2.6],"range":["#1f45ff","#2a50f8","#3f60f0","#5b78e8","#7a90e6","#94a8ea","#c3cdf2","#ffffff","#f6bdd3","#f08db5","#ee6fa0","#f25489","#f53d72","#f9285a","#fd1a42"]}}}},
{"data":{"values":[{"a":7.95,"b":8.1}]},"mark":{"type":"rect","fill":"#a0aeaa"},"encoding":{"x":{"field":"a","type":"quantitative","axis":null,"scale":{"domain":[0,16],"range":[250.7,1080.3],"zero":false,"nice":false}},"x2":{"field":"b"},"y":{"datum":0,"type":"quantitative","axis":null,"scale":{"domain":[0,1],"range":[995,1824.3],"zero":false,"nice":false}},"y2":{"datum":1}}},
{"data":{"values":[{"cond":"sustained","from":-0.14,"to":7.95,"mid":4.06},{"cond":"transient","from":8.07,"to":15.94,"mid":11.94}]},"mark":{"type":"rect","fill":"black"},"encoding":{"x":{"field":"from","type":"quantitative","axis":null,"scale":{"domain":[0,16],"range":[250.7,1080.3],"zero":false,"nice":false}},"x2":{"field":"to"},"y":{"datum":0,"type":"quantitative","axis":null,"scale":{"domain":[0,1],"range":[947,984.3],"zero":false,"nice":false}},"y2":{"datum":1}}},
{"data":{"values":[{"cond":"sustained","from":-0.14,"to":7.95,"mid":4.06},{"cond":"transient","from":8.07,"to":15.94,"mid":11.94}]},"mark":{"type":"text","fill":"white","fontSize":28,"align":"center","baseline":"alphabetic"},"encoding":{"x":{"field":"mid","type":"quantitative","axis":null,"scale":{"domain":[0,16],"range":[250.7,1080.3],"zero":false,"nice":false}},"y":{"datum":0.72,"type":"quantitative","axis":null,"scale":{"domain":[0,1],"range":[947,984.3],"zero":false,"nice":false}},"text":{"field":"cond"}}},
{"data":{"values":[{"c":0,"t":"1.5"},{"c":1,"t":"2"},{"c":2,"t":"4"},{"c":3,"t":"6"},{"c":4,"t":"8"},{"c":5,"t":"10"},{"c":6,"t":"12"},{"c":7,"t":"14"},{"c":8,"t":"1.5"},{"c":9,"t":"2"},{"c":10,"t":"4"},{"c":11,"t":"6"},{"c":12,"t":"8"},{"c":13,"t":"10"},{"c":14,"t":"12"},{"c":15,"t":"14"}]},"mark":{"type":"text","fill":"black","fontSize":26,"angle":270,"align":"right","baseline":"middle"},"encoding":{"x":{"field":"c","type":"ordinal","axis":null,"scale":{"type":"band","domain":[0,1,2,3,4,5,6,7,8,9,10,11,12,13,14,15],"range":[250.7,1080.3],"padding":0}},"y":{"datum":0,"type":"quantitative","axis":null,"scale":{"domain":[0,1],"range":[1843,1900],"zero":false,"nice":false}},"text":{"field":"t"}}},
{"data":{"values":[{"z":0,"y":0,"y2":14,"d":12},{"z":0,"y":14,"y2":30,"d":10},{"z":0,"y":30,"y2":44,"d":14},{"z":0,"y":44,"y2":60,"d":10},{"z":0,"y":60,"y2":78,"d":9},{"z":0,"y":78,"y2":95,"d":13},{"z":0,"y":95,"y2":112,"d":9},{"z":0,"y":112,"y2":128,"d":11},{"z":0,"y":128,"y2":146,"d":8},{"z":0,"y":146,"y2":165,"d":13},{"z":0,"y":165,"y2":182,"d":10},{"z":0,"y":182,"y2":198,"d":8},{"z":0,"y":198,"y2":218,"d":12},{"z":0,"y":218,"y2":236,"d":14},{"z":0,"y":236,"y2":254,"d":10},{"z":0,"y":254,"y2":270,"d":9},{"z":0,"y":270,"y2":288,"d":11},{"z":0,"y":288,"y2":320,"d":16},{"z":0,"y":320,"y2":340,"d":18},{"z":0,"y":340,"y2":358,"d":13},{"z":0,"y":358,"y2":376,"d":20},{"z":0,"y":376,"y2":392,"d":13},{"z":0,"y":392,"y2":410,"d":17},{"z":0,"y":410,"y2":428,"d":21},{"z":0,"y":428,"y2":445,"d":14},{"z":0,"y":445,"y2":462,"d":18},{"z":0,"y":462,"y2":482,"d":20},{"z":0,"y":482,"y2":500,"d":17},{"z":0,"y":500,"y2":520,"d":20},{"z":0,"y":520,"y2":540,"d":16},{"z":0,"y":540,"y2":560,"d":13},{"z":0,"y":560,"y2":582,"d":18},{"z":0,"y":582,"y2":600,"d":13},{"z":0,"y":600,"y2":622,"d":17},{"z":0,"y":622,"y2":642,"d":15},{"z":0,"y":642,"y2":662,"d":20},{"z":0,"y":662,"y2":682,"d":13},{"z":0,"y":682,"y2":702,"d":18},{"z":0,"y":702,"y2":722,"d":15},{"z":0,"y":722,"y2":745,"d":18},{"z":0,"y":745,"y2":770,"d":14},{"z":0,"y":770,"y2":792,"d":19},{"z":0,"y":792,"y2":815,"d":15},{"z":0,"y":815,"y2":829,"d":12}]},"mark":{"type":"rect","fill":"black"},"encoding":{"x":{"field":"z","type":"quantitative","axis":null,"scale":{"domain":[0,234.3],"range":[243,8.7],"zero":false,"nice":false}},"x2":{"field":"d"},"y":{"field":"y","type":"quantitative","axis":null,"scale":{"domain":[0,829.3],"range":[995,1824.3],"zero":false,"nice":false}},"y2":{"field":"y2"}}},
{"data":{"values":[{"y":131,"d0":234.3,"d1":41},{"y":462,"d0":234.3,"d1":114},{"y":51,"d0":41,"d1":30},{"y":14,"d0":30,"d1":19},{"y":92,"d0":30,"d1":20},{"y":5,"d0":19,"d1":8},{"y":35,"d0":19,"d1":8},{"y":75,"d0":20,"d1":8},{"y":110,"d0":20,"d1":8},{"y":209,"d0":41,"d1":30},{"y":165,"d0":30,"d1":15},{"y":250,"d0":30,"d1":15},{"y":221,"d0":15,"d1":8},{"y":278,"d0":15,"d1":8},{"y":339.7,"d0":114,"d1":84},{"y":584.6,"d0":114,"d1":46.3},{"y":303,"d0":84,"d1":51.3},{"y":299.7,"d0":51.3,"d1":13},{"y":309,"d0":51.3,"d1":13},{"y":378.5,"d0":84,"d1":60.3},{"y":343,"d0":60.3,"d1":35},{"y":324,"d0":35,"d1":21.3},{"y":362,"d0":35,"d1":21.3},{"y":413,"d0":60.3,"d1":40},{"y":393,"d0":40,"d1":16.3},{"y":429.5,"d0":40,"d1":24},{"y":415,"d0":24,"d1":10},{"y":442,"d0":24,"d1":12},{"y":480.5,"d0":46.3,"d1":31.3},{"y":466,"d0":31.3,"d1":18},{"y":517,"d0":31.3,"d1":18},{"y":678.5,"d0":46.3,"d1":39},{"y":599,"d0":39,"d1":23},{"y":575.6,"d0":23,"d1":10},{"y":621,"d0":23,"d1":14},{"y":756,"d0":39,"d1":29},{"y":718.5,"d0":29,"d1":21.3},{"y":684.6,"d0":21.3,"d1":10},{"y":748,"d0":21.3,"d1":10},{"y":793,"d0":29,"d1":18},{"y":776,"d0":18,"d1":9},{"y":817,"d0":18,"d1":9}]},"mark":{"type":"rule","stroke":"black","strokeWidth":4.5,"strokeCap":"square"},"encoding":{"x":{"field":"d0","type":"quantitative","axis":null,"scale":{"domain":[0,234.3],"range":[243,8.7],"zero":false,"nice":false}},"x2":{"field":"d1"},"y":{"field":"y","type":"quantitative","axis":null,"scale":{"domain":[0,829.3],"range":[995,1824.3],"zero":false,"nice":false}}}},
{"data":{"values":[{"d":234.3,"y0":131,"y1":462},{"d":41,"y0":51,"y1":209},{"d":30,"y0":14,"y1":92},{"d":19,"y0":5,"y1":35},{"d":20,"y0":75,"y1":110},{"d":30,"y0":165,"y1":250},{"d":15,"y0":221,"y1":278},{"d":114,"y0":339.7,"y1":584.6},{"d":84,"y0":303,"y1":378.5},{"d":51.3,"y0":299.7,"y1":309},{"d":60.3,"y0":343,"y1":413},{"d":35,"y0":324,"y1":362},{"d":40,"y0":393,"y1":429.5},{"d":24,"y0":415,"y1":442},{"d":46.3,"y0":480.5,"y1":678.5},{"d":31.3,"y0":466,"y1":517},{"d":39,"y0":599,"y1":756},{"d":23,"y0":575.6,"y1":621},{"d":29,"y0":718.5,"y1":793},{"d":21.3,"y0":684.6,"y1":748},{"d":18,"y0":776,"y1":817}]},"mark":{"type":"rule","stroke":"black","strokeWidth":4.5,"strokeCap":"square"},"encoding":{"x":{"field":"d","type":"quantitative","axis":null,"scale":{"domain":[0,234.3],"range":[243,8.7],"zero":false,"nice":false}},"y":{"field":"y0","type":"quantitative","axis":null,"scale":{"domain":[0,829.3],"range":[995,1824.3],"zero":false,"nice":false}},"y2":{"field":"y1"}}},
{"data":{"values":[{"i":0,"g":"Mbnat1"},{"i":1,"g":"Rgs2"},{"i":2,"g":"Klf6"},{"i":3,"g":"Egr3"},{"i":4,"g":"Ier2"},{"i":5,"g":"Dusp6"},{"i":6,"g":"Ccnd7"},{"i":7,"g":"Fosl1"},{"i":8,"g":"Myc"},{"i":9,"g":"Junb"},{"i":10,"g":"Atf3"},{"i":11,"g":"Nr4a1"},{"i":12,"g":"Gem"},{"i":13,"g":"Btg2"},{"i":14,"g":"Tmem45a"},{"i":15,"g":"Sgk1"},{"i":16,"g":"Cdkn1a"},{"i":17,"g":"Hbegf"},{"i":18,"g":"Ereg"},{"i":19,"g":"LOC10098134"},{"i":20,"g":"Areg"},{"i":21,"g":"LOC10063545"},{"i":22,"g":"Tgfa"},{"i":23,"g":"Vgf"},{"i":24,"g":"LOC10566368"},{"i":25,"g":"Gadd45a"},{"i":26,"g":"Phlda1"},{"i":27,"g":"Spry2"},{"i":28,"g":"Spry4"},{"i":29,"g":"Sprr1"},{"i":30,"g":"Srf"},{"i":31,"g":"Ets2"},{"i":32,"g":"RGD1585909"},{"i":33,"g":"Etv5"},{"i":34,"g":"Etv4"},{"i":35,"g":"Mmp3"},{"i":36,"g":"Plaur"},{"i":37,"g":"Arhgap"},{"i":38,"g":"Plat"},{"i":39,"g":"Serpine"},{"i":40,"g":"Ldlr"},{"i":41,"g":"Hmox1"},{"i":42,"g":"Txnip"},{"i":43,"g":"Id1"},{"i":44,"g":"Id2"},{"i":45,"g":"Id3"},{"i":46,"g":"RGD1310788"},{"i":47,"g":"Sik1"},{"i":48,"g":"Zfand478"},{"i":49,"g":"Nab2"},{"i":50,"g":"Nab1"},{"i":51,"g":"Maff"},{"i":52,"g":"Mafk"},{"i":53,"g":"Atp6a3b"},{"i":54,"g":"Crem"},{"i":55,"g":"Bhlhe4"},{"i":56,"g":"Per1"},{"i":57,"g":"Hspa1a"},{"i":58,"g":"RGD1302251"},{"i":59,"g":"Cited2"},{"i":60,"g":"RGD1561694"},{"i":61,"g":"Tiparp"},{"i":62,"g":"Ppp1r"},{"i":63,"g":"Ptgs2"},{"i":64,"g":"Il6"},{"i":65,"g":"Tmem282"},{"i":66,"g":"Cxcl1"},{"i":67,"g":"Ccl2"},{"i":68,"g":"Ccl7"},{"i":69,"g":"Gpr73c"},{"i":70,"g":"Socs3"},{"i":71,"g":"Socs2"},{"i":72,"g":"Pim1"},{"i":73,"g":"RGD1562136"},{"i":74,"g":"Stat3"},{"i":75,"g":"Cebpb"},{"i":76,"g":"RGD1586960"},{"i":77,"g":"Cebpd"},{"i":78,"g":"Tnc"},{"i":79,"g":"Tnfa"},{"i":80,"g":"Lif"},{"i":81,"g":"Odc1"},{"i":82,"g":"Nfil3"},{"i":83,"g":"Nfkb1"},{"i":84,"g":"RGD1562347"},{"i":85,"g":"Rel"},{"i":86,"g":"RGD1564372"},{"i":87,"g":"Relb"},{"i":88,"g":"Irf1"},{"i":89,"g":"Bcl3"},{"i":90,"g":"Bcl6"},{"i":91,"g":"Mcl1"},{"i":92,"g":"Bag3"},{"i":93,"g":"Hspb1"},{"i":94,"g":"Hspb8"},{"i":95,"g":"Ddit3"},{"i":96,"g":"Ddit4"},{"i":97,"g":"Trib3"},{"i":98,"g":"Atf4"},{"i":99,"g":"Asns"},{"i":100,"g":"Slc25a25"},{"i":101,"g":"Chac1"},{"i":102,"g":"Sesn2"},{"i":103,"g":"Mir18b"},{"i":104,"g":"Vegfa"},{"i":105,"g":"Adm"},{"i":106,"g":"Pdk1"},{"i":107,"g":"Egln3"},{"i":108,"g":"Bnip3"},{"i":109,"g":"Ak4"},{"i":110,"g":"Eno2"},{"i":111,"g":"RGD1311273"},{"i":112,"g":"Pgk1"},{"i":113,"g":"Ldha"},{"i":114,"g":"Aldoa"},{"i":115,"g":"Tpi1"},{"i":116,"g":"Gpi"},{"i":117,"g":"Pfkl"},{"i":118,"g":"RGD1562894"},{"i":119,"g":"Hk2"},{"i":120,"g":"Pkm"},{"i":121,"g":"Mif"},{"i":122,"g":"Krt18a"},{"i":123,"g":"Lcn2"},{"i":124,"g":"S100a4"},{"i":125,"g":"S100a6"},{"i":126,"g":"Anxa1"},{"i":127,"g":"Anxa2"},{"i":128,"g":"Anxa5"},{"i":129,"g":"Tagln"},{"i":130,"g":"Acta2"},{"i":131,"g":"Cnn1"},{"i":132,"g":"Myl9"},{"i":133,"g":"RGD1566215"},{"i":134,"g":"Vim"},{"i":135,"g":"Fn1"},{"i":136,"g":"Lox"},{"i":137,"g":"Timp1"},{"i":138,"g":"Col1a1"},{"i":139,"g":"Cyp4f2a"},{"i":140,"g":"Col3a1"},{"i":141,"g":"Sparc"},{"i":142,"g":"Thbs1"},{"i":143,"g":"Ctgf"},{"i":144,"g":"Cyr61"},{"i":145,"g":"Igfbp3"},{"i":146,"g":"Igfbp5"},{"i":147,"g":"Gas1"},{"i":148,"g":"Hist1h9a"},{"i":149,"g":"Gas6"},{"i":150,"g":"Gstm1"},{"i":151,"g":"Gsta4"},{"i":152,"g":"Nqo1"},{"i":153,"g":"Gclm"},{"i":154,"g":"RGD1565690"},{"i":155,"g":"Srxn1"},{"i":156,"g":"Txnrd1"},{"i":157,"g":"Prdx1"},{"i":158,"g":"Slc7a11"},{"i":159,"g":"Slc3a2"},{"i":160,"g":"Slc2a1"},{"i":161,"g":"Cd44"},{"i":162,"g":"LOC100360417"},{"i":163,"g":"Itga5"},{"i":164,"g":"Itgb1"},{"i":165,"g":"Lamc2"},{"i":166,"g":"Lamb3"},{"i":167,"g":"Cd9"},{"i":168,"g":"Cd63"},{"i":169,"g":"Ctsl"},{"i":170,"g":"Ctsb"},{"i":171,"g":"Ctsd"},{"i":172,"g":"Lamp1"},{"i":173,"g":"Gla"},{"i":174,"g":"Hexa"},{"i":175,"g":"Hexb"},{"i":176,"g":"Psap"},{"i":177,"g":"Gm2a"},{"i":178,"g":"Npc2"},{"i":179,"g":"Scd1"},{"i":180,"g":"Insig1"},{"i":181,"g":"Fasn"},{"i":182,"g":"Sqle"},{"i":183,"g":"Idi1"},{"i":184,"g":"Snord176b"},{"i":185,"g":"Hmgcr"},{"i":186,"g":"Hmgcs1"},{"i":187,"g":"Fdps"},{"i":188,"g":"Fdft1"},{"i":189,"g":"Cyp51"},{"i":190,"g":"RGD1306058"},{"i":191,"g":"Dhcr7"},{"i":192,"g":"Lss"},{"i":193,"g":"Nsdhl"},{"i":194,"g":"Sc5d"},{"i":195,"g":"Stard4"},{"i":196,"g":"Acat2"},{"i":197,"g":"Acly"},{"i":198,"g":"Elovl6"},{"i":199,"g":"Me1"},{"i":200,"g":"RGD1560592"},{"i":201,"g":"RGD1300060"},{"i":202,"g":"Pgd"},{"i":203,"g":"Tkt"},{"i":204,"g":"Taldo1"},{"i":205,"g":"G6pd"},{"i":206,"g":"Rpia"},{"i":207,"g":"Ak3"},{"i":208,"g":"Ak2"},{"i":209,"g":"Ak1"}]},"mark":{"type":"text","fill":"black","stroke":"black","strokeWidth":0.8,"fontSize":13.5,"align":"left","baseline":"middle"},"encoding":{"x":{"datum":0,"type":"quantitative","axis":null,"scale":{"domain":[0,1],"range":[1099,1200],"zero":false,"nice":false}},"y":{"field":"i","type":"quantitative","axis":null,"scale":{"domain":[0,209],"range":[998,1826],"zero":false,"nice":false}},"text":{"field":"g"}}},
{"data":{"values":[{"n":0,"t":"A"},{"n":1,"t":"B"}]},"mark":{"type":"text","fill":"black","fontSize":58,"align":"left","baseline":"alphabetic"},"encoding":{"x":{"field":"n","type":"quantitative","axis":null,"scale":{"domain":[0,1],"range":[1,0],"zero":false,"nice":false}},"y":{"field":"n","type":"quantitative","axis":null,"scale":{"domain":[0,1],"range":[53,755],"zero":false,"nice":false}},"text":{"field":"t"}}},
{"data":{"values":[{"t":"Transient (1h) versus sustained (14h)"}]},"mark":{"type":"text","fill":"black","fontSize":51.9,"align":"left","baseline":"alphabetic"},"encoding":{"x":{"datum":0,"type":"quantitative","axis":null,"scale":{"domain":[0,1],"range":[136,995],"zero":false,"nice":false}},"y":{"datum":0,"type":"quantitative","axis":null,"scale":{"domain":[0,1],"range":[131,200],"zero":false,"nice":false}},"text":{"field":"t"}}},
{"data":{"values":[{"n":0,"t":"1h"},{"n":1,"t":"Untreated"},{"n":2,"t":"Sustained"},{"n":3,"t":"Transient"},{"n":4,"t":"Gene expression profiling at 10 time points"}]},"mark":{"type":"text","fill":"black","fontSize":41.5,"align":"left","baseline":"alphabetic"},"encoding":{"x":{"field":"n","type":"quantitative","axis":null,"scale":{"domain":[0,1,2,3,4],"range":[534,130.5,130,130,328.5],"zero":false,"nice":false}},"y":{"field":"n","type":"quantitative","axis":null,"scale":{"domain":[0,1,2,3,4],"range":[223,318.7,393.7,467.5,639.6],"zero":false,"nice":false}},"text":{"field":"t"}}},
{"data":{"values":[{"n":0,"t":"10 nM G17"},{"n":1,"t":"10 nM G17"}]},"mark":{"type":"text","fill":"#1a2628","fontSize":30.6,"align":"left","baseline":"alphabetic"},"encoding":{"x":{"datum":0,"type":"quantitative","axis":null,"scale":{"domain":[0,1],"range":[401.5,500],"zero":false,"nice":false}},"y":{"field":"n","type":"quantitative","axis":null,"scale":{"domain":[0,1],"range":[394.6,463],"zero":false,"nice":false}},"text":{"field":"t"}}},
{"data":{"values":[{"n":0,"t":"−3"},{"n":1,"t":"0"},{"n":2,"t":"3"}]},"mark":{"type":"text","fill":"black","fontSize":25.5,"align":"left","baseline":"alphabetic"},"encoding":{"x":{"field":"n","type":"quantitative","axis":null,"scale":{"domain":[0,1,2],"range":[113,165,209.5],"zero":false,"nice":false}},"y":{"datum":0,"type":"quantitative","axis":null,"scale":{"domain":[0,1],"range":[895,920],"zero":false,"nice":false}},"text":{"field":"t"}}},
{"data":{"values":[{"n":0,"t":"Value"},{"n":1,"t":"Time [h]"}]},"mark":{"type":"text","fill":"black","fontSize":34.4,"align":"left","baseline":"alphabetic"},"encoding":{"x":{"field":"n","type":"quantitative","axis":null,"scale":{"domain":[0,1],"range":[129.5,588],"zero":false,"nice":false}},"y":{"field":"n","type":"quantitative","axis":null,"scale":{"domain":[0,1],"range":[926,1948],"zero":false,"nice":false}},"text":{"field":"t"}}},
{"data":{"values":[{"t":"Color Key"}]},"mark":{"type":"text","fill":"black","fontWeight":"bold","fontSize":31.5,"align":"left","baseline":"alphabetic"},"encoding":{"x":{"datum":0,"type":"quantitative","axis":null,"scale":{"domain":[0,1],"range":[98,246],"zero":false,"nice":false}},"y":{"datum":0,"type":"quantitative","axis":null,"scale":{"domain":[0,1],"range":[787.3,800],"zero":false,"nice":false}},"text":{"field":"t"}}}
]}
